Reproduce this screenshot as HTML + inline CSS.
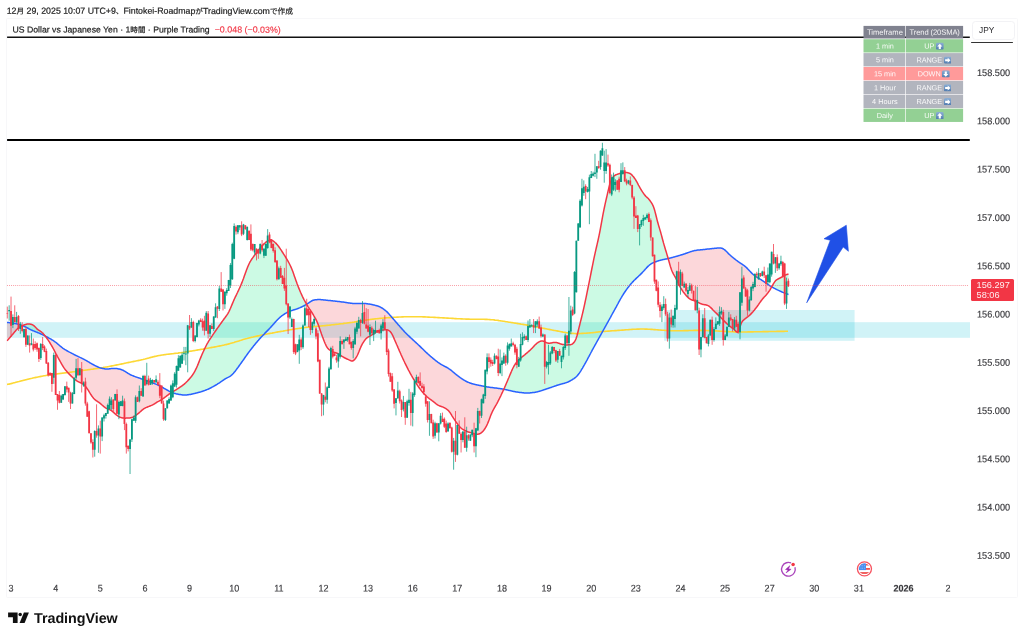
<!DOCTYPE html>
<html lang="ja"><head><meta charset="utf-8"><title>USDJPY</title>
<style>
html,body{margin:0;padding:0;background:#fff;}
body{width:1024px;height:639px;position:relative;overflow:hidden;font-family:"Liberation Sans","Noto Sans CJK JP",sans-serif;color:#2a2a2e;}
.abs{position:absolute;white-space:nowrap;line-height:1;}
#frame{position:absolute;left:6px;top:18px;width:1011.5px;height:580px;border:1px solid #f7f7f9;box-sizing:border-box;border-radius:1.5px;}
#hdr{left:0;top:0;transform:translate(6.65px,6.85px) rotate(0.04deg);font-size:8.8px;color:#222;-webkit-text-stroke:0.2px #222;}
#ttl{left:0;top:0;transform:translate(12.5px,25.55px) rotate(0.04deg);font-size:8.7px;color:#1e1e1e;-webkit-text-stroke:0.2px #1e1e1e;}
#ttl .chg{color:#f23645;margin-left:5px;font-size:8.9px;-webkit-text-stroke:0.15px #f23645;}
.cj{font-size:0.87em;}
.pl{left:977px;font-size:9.6px;color:#38383c;-webkit-text-stroke:0.15px #38383c;transform:scaleX(0.955) rotate(0.05deg);transform-origin:0 50%;}
.tl{font-size:9.6px;color:#38383c;-webkit-text-stroke:0.15px #38383c;transform:translate(-50%,0.6px) scaleX(0.94) rotate(0.05deg);top:583px;}
.tl.b{font-weight:bold;}
#cur{left:970.5px;top:279.3px;width:43.1px;height:21.8px;background:#f23645;border-radius:1.5px;color:rgba(255,255,255,0.92);font-size:9.2px;}
#cur div{position:absolute;left:6.1px;line-height:1;}
#jpy{left:972.3px;top:21.1px;width:43px;height:18.6px;border:1px solid #f2f2f5;border-radius:3.5px;box-sizing:border-box;font-size:8.3px;}
#jpy span{position:absolute;left:5.8px;top:3.9px;}
#jpyline{position:absolute;left:970.8px;top:41.8px;width:42.4px;height:1.5px;background:#333;border-radius:1px;}
#tbl{position:absolute;left:863.5px;top:0;width:99.6px;}
#tbl .row{position:absolute;left:0;width:99.6px;transform:translateY(0.3px) rotate(0.05deg);}
#tbl .row.h{font-size:7.6px;transform:translateY(0.45px) rotate(0.05deg);}
#tbl .row.h .c{font-size:7.6px;}
#tbl .row.h .c2{padding-right:0.6px;}
#tbl .c{position:absolute;top:0;height:100%;color:rgba(255,255,255,0.92);font-size:7.3px;box-sizing:border-box;text-align:center;white-space:nowrap;}
#tbl .c1{left:0;width:41.8px;}
#tbl .c2{left:42.25px;width:57.35px;letter-spacing:-0.1px;padding-right:2.0px;}
.up{background:#93d094;} .rg{background:#b2b5be;} .dn{background:#ff9a9a;} .hd{background:#80828f;}
.em{display:inline-block;width:7.6px;height:7.6px;vertical-align:-1.3px;margin-left:1.8px;}
#logo{left:34.0px;top:610.5px;transform:rotate(0.03deg);font-size:14.35px;font-weight:bold;color:#111;letter-spacing:-0.05px;}
</style></head><body>
<div id="frame"></div>
<div id="hdr" class="abs">12<span class="cj">月</span> 29, 2025 10:07 UTC+9<span class="cj">、</span>Fintokei-Roadmap<span class="cj">が</span>TradingView.com<span class="cj">で作成</span></div>
<div id="ttl" class="abs">US Dollar vs Japanese Yen · 1<span class="cj">時間</span> · Purple Trading<span class="chg">−0.048 (−0.03%)</span></div>
<svg class="abs" style="left:0;top:0" width="1024" height="639" viewBox="0 0 1024 639">

<rect x="7" y="322.2" width="963" height="15.6" fill="rgba(0,188,212,0.18)"/>
<rect x="664.2" y="310" width="190.4" height="30.8" fill="rgba(0,188,212,0.18)"/>
<path d="M22.5 325.6L23.0 325.4L23.5 325.2L24.0 325.0L24.5 324.8L25.0 324.7L25.5 324.5L26.0 324.4L26.5 324.2L27.0 324.1L27.5 324.1L28.0 324.0L28.5 324.0L29.0 324.0L29.5 324.1L30.0 324.1L30.5 324.2L31.0 324.3L31.5 324.5L32.0 324.6L32.5 324.8L33.0 325.1L33.5 325.4L34.0 325.8L34.5 326.2L35.0 326.7L35.5 327.2L36.0 327.8L36.5 328.3L37.0 328.9L37.5 329.3L38.0 329.7L38.5 330.0L39.0 330.3L39.5 330.6L40.0 330.9L40.5 331.3L41.0 331.6L41.5 332.0L42.0 332.5L42.5 332.9L43.0 333.4L43.5 334.0L44.0 334.5L44.5 335.2L45.0 335.8L45.5 336.4L45.5 336.2L45.0 335.9L44.5 335.7L44.0 335.4L43.5 335.2L43.0 334.9L42.5 334.7L42.0 334.4L41.5 334.2L41.0 334.0L40.5 333.7L40.0 333.5L39.5 333.3L39.0 333.1L38.5 332.9L38.0 332.7L37.5 332.5L37.0 332.3L36.5 332.1L36.0 331.9L35.5 331.7L35.0 331.5L34.5 331.3L34.0 331.1L33.5 330.9L33.0 330.7L32.5 330.5L32.0 330.3L31.5 330.1L31.0 329.8L30.5 329.6L30.0 329.3L29.5 329.1L29.0 328.8L28.5 328.5L28.0 328.3L27.5 328.0L27.0 327.7L26.5 327.5L26.0 327.2L25.5 326.9L25.0 326.7L24.5 326.5L24.0 326.2L23.5 326.0L23.0 325.8L22.5 325.6ZM172.0 392.2L172.5 391.9L173.0 391.5L173.5 391.3L174.0 391.0L174.5 390.7L175.0 390.4L175.5 390.1L176.0 389.8L176.5 389.5L177.0 389.1L177.5 388.8L178.0 388.5L178.5 388.2L179.0 387.8L179.5 387.5L180.0 387.2L180.5 386.8L181.0 386.5L181.5 386.2L182.0 385.8L182.5 385.5L183.0 385.1L183.5 384.7L184.0 384.3L184.5 383.9L185.0 383.4L185.5 383.0L186.0 382.5L186.5 382.0L187.0 381.5L187.5 381.0L188.0 380.4L188.5 379.9L189.0 379.4L189.5 378.8L190.0 378.2L190.5 377.6L191.0 377.0L191.5 376.4L192.0 375.7L192.5 375.0L193.0 374.2L193.5 373.5L194.0 372.7L194.5 371.8L195.0 370.9L195.5 369.9L196.0 368.9L196.5 367.9L197.0 366.7L197.5 365.6L198.0 364.4L198.5 363.1L199.0 361.9L199.5 360.6L200.0 359.3L200.5 358.1L201.0 356.9L201.5 355.7L202.0 354.5L202.5 353.4L203.0 352.3L203.5 351.2L204.0 350.1L204.5 349.0L205.0 348.0L205.5 347.0L206.0 346.0L206.5 345.0L207.0 344.0L207.5 343.1L208.0 342.3L208.5 341.4L209.0 340.6L209.5 339.8L210.0 339.0L210.5 338.3L211.0 337.6L211.5 336.8L212.0 336.1L212.5 335.3L213.0 334.6L213.5 333.9L214.0 333.1L214.5 332.4L215.0 331.7L215.5 331.0L216.0 330.2L216.5 329.5L217.0 328.8L217.5 328.1L218.0 327.4L218.5 326.7L219.0 326.0L219.5 325.3L220.0 324.6L220.5 323.9L221.0 323.2L221.5 322.5L222.0 321.8L222.5 321.1L223.0 320.4L223.5 319.7L224.0 319.0L224.5 318.3L225.0 317.7L225.5 317.0L226.0 316.3L226.5 315.6L227.0 314.9L227.5 314.1L228.0 313.3L228.5 312.4L229.0 311.5L229.5 310.4L230.0 309.3L230.5 308.2L231.0 307.0L231.5 305.8L232.0 304.6L232.5 303.4L233.0 302.2L233.5 301.0L234.0 299.9L234.5 298.8L235.0 297.7L235.5 296.7L236.0 295.6L236.5 294.6L237.0 293.5L237.5 292.5L238.0 291.4L238.5 290.4L239.0 289.3L239.5 288.2L240.0 287.1L240.5 286.0L241.0 284.8L241.5 283.6L242.0 282.4L242.5 281.1L243.0 279.7L243.5 278.4L244.0 277.0L244.5 275.6L245.0 274.2L245.5 272.8L246.0 271.4L246.5 270.0L247.0 268.7L247.5 267.4L248.0 266.2L248.5 265.1L249.0 264.0L249.5 263.0L250.0 262.0L250.5 261.2L251.0 260.3L251.5 259.5L252.0 258.8L252.5 258.1L253.0 257.4L253.5 256.7L254.0 256.0L254.5 255.3L255.0 254.7L255.5 254.0L256.0 253.3L256.5 252.6L257.0 252.0L257.5 251.3L258.0 250.7L258.5 250.0L259.0 249.4L259.5 248.8L260.0 248.2L260.5 247.6L261.0 247.1L261.5 246.5L262.0 246.0L262.5 245.5L263.0 244.9L263.5 244.4L264.0 243.9L264.5 243.4L265.0 243.0L265.5 242.5L266.0 242.1L266.5 241.7L267.0 241.4L267.5 241.1L268.0 240.8L268.5 240.6L269.0 240.4L269.5 240.2L270.0 240.1L270.5 240.1L271.0 240.1L271.5 240.2L272.0 240.3L272.5 240.6L273.0 240.9L273.5 241.2L274.0 241.6L274.5 242.0L275.0 242.5L275.5 242.9L276.0 243.4L276.5 243.9L277.0 244.5L277.5 245.1L278.0 245.7L278.5 246.3L279.0 247.0L279.5 247.7L280.0 248.4L280.5 249.2L281.0 249.9L281.5 250.7L282.0 251.5L282.5 252.3L283.0 253.0L283.5 253.8L284.0 254.6L284.5 255.4L285.0 256.2L285.5 257.0L286.0 257.8L286.5 258.6L287.0 259.4L287.5 260.3L288.0 261.2L288.5 262.1L289.0 263.0L289.5 264.0L290.0 265.0L290.5 266.0L291.0 267.1L291.5 268.3L292.0 269.5L292.5 270.8L293.0 272.1L293.5 273.5L294.0 274.9L294.5 276.4L295.0 277.8L295.5 279.3L296.0 280.7L296.5 282.1L297.0 283.5L297.5 284.8L298.0 286.1L298.5 287.4L299.0 288.6L299.5 289.8L300.0 291.0L300.5 292.2L301.0 293.3L301.5 294.4L302.0 295.5L302.5 296.6L303.0 297.6L303.5 298.6L304.0 299.6L304.5 300.5L305.0 301.4L305.5 302.3L306.0 303.2L306.5 304.1L307.0 304.9L307.0 304.0L306.5 304.3L306.0 304.6L305.5 304.9L305.0 305.2L304.5 305.4L304.0 305.7L303.5 306.0L303.0 306.2L302.5 306.5L302.0 306.7L301.5 307.0L301.0 307.2L300.5 307.4L300.0 307.7L299.5 307.9L299.0 308.1L298.5 308.3L298.0 308.5L297.5 308.7L297.0 308.9L296.5 309.1L296.0 309.2L295.5 309.4L295.0 309.5L294.5 309.7L294.0 309.8L293.5 310.0L293.0 310.1L292.5 310.3L292.0 310.4L291.5 310.6L291.0 310.8L290.5 310.9L290.0 311.1L289.5 311.3L289.0 311.5L288.5 311.8L288.0 312.0L287.5 312.3L287.0 312.5L286.5 312.8L286.0 313.1L285.5 313.4L285.0 313.7L284.5 314.0L284.0 314.3L283.5 314.7L283.0 315.0L282.5 315.4L282.0 315.7L281.5 316.1L281.0 316.5L280.5 316.9L280.0 317.3L279.5 317.8L279.0 318.2L278.5 318.7L278.0 319.2L277.5 319.7L277.0 320.2L276.5 320.8L276.0 321.3L275.5 321.9L275.0 322.4L274.5 323.0L274.0 323.6L273.5 324.1L273.0 324.7L272.5 325.3L272.0 325.8L271.5 326.4L271.0 326.9L270.5 327.5L270.0 328.0L269.5 328.5L269.0 329.1L268.5 329.6L268.0 330.1L267.5 330.6L267.0 331.1L266.5 331.6L266.0 332.1L265.5 332.6L265.0 333.1L264.5 333.7L264.0 334.2L263.5 334.7L263.0 335.2L262.5 335.7L262.0 336.3L261.5 336.8L261.0 337.3L260.5 337.9L260.0 338.4L259.5 339.0L259.0 339.6L258.5 340.2L258.0 340.7L257.5 341.3L257.0 341.9L256.5 342.5L256.0 343.1L255.5 343.7L255.0 344.3L254.5 344.9L254.0 345.5L253.5 346.1L253.0 346.8L252.5 347.4L252.0 348.0L251.5 348.7L251.0 349.3L250.5 349.9L250.0 350.6L249.5 351.3L249.0 351.9L248.5 352.6L248.0 353.3L247.5 354.0L247.0 354.7L246.5 355.4L246.0 356.1L245.5 356.8L245.0 357.5L244.5 358.2L244.0 359.0L243.5 359.7L243.0 360.4L242.5 361.1L242.0 361.8L241.5 362.5L241.0 363.2L240.5 363.9L240.0 364.6L239.5 365.3L239.0 366.0L238.5 366.7L238.0 367.4L237.5 368.0L237.0 368.7L236.5 369.4L236.0 370.1L235.5 370.8L235.0 371.4L234.5 372.0L234.0 372.6L233.5 373.2L233.0 373.7L232.5 374.2L232.0 374.7L231.5 375.2L231.0 375.6L230.5 375.9L230.0 376.3L229.5 376.6L229.0 376.9L228.5 377.1L228.0 377.4L227.5 377.6L227.0 377.9L226.5 378.2L226.0 378.4L225.5 378.7L225.0 379.0L224.5 379.3L224.0 379.7L223.5 380.0L223.0 380.3L222.5 380.7L222.0 381.0L221.5 381.4L221.0 381.7L220.5 382.1L220.0 382.4L219.5 382.8L219.0 383.1L218.5 383.4L218.0 383.7L217.5 384.0L217.0 384.4L216.5 384.7L216.0 385.0L215.5 385.3L215.0 385.5L214.5 385.8L214.0 386.1L213.5 386.4L213.0 386.7L212.5 386.9L212.0 387.2L211.5 387.5L211.0 387.7L210.5 388.0L210.0 388.2L209.5 388.5L209.0 388.7L208.5 389.0L208.0 389.2L207.5 389.4L207.0 389.6L206.5 389.8L206.0 390.0L205.5 390.2L205.0 390.4L204.5 390.6L204.0 390.8L203.5 391.0L203.0 391.1L202.5 391.3L202.0 391.5L201.5 391.6L201.0 391.8L200.5 391.9L200.0 392.1L199.5 392.2L199.0 392.3L198.5 392.5L198.0 392.6L197.5 392.7L197.0 392.9L196.5 393.0L196.0 393.1L195.5 393.2L195.0 393.4L194.5 393.5L194.0 393.6L193.5 393.7L193.0 393.8L192.5 393.9L192.0 394.0L191.5 394.2L191.0 394.3L190.5 394.4L190.0 394.5L189.5 394.6L189.0 394.6L188.5 394.7L188.0 394.8L187.5 394.8L187.0 394.9L186.5 394.9L186.0 395.0L185.5 395.0L185.0 395.0L184.5 395.0L184.0 395.0L183.5 394.9L183.0 394.9L182.5 394.9L182.0 394.8L181.5 394.8L181.0 394.7L180.5 394.6L180.0 394.6L179.5 394.5L179.0 394.4L178.5 394.3L178.0 394.2L177.5 394.1L177.0 394.0L176.5 393.9L176.0 393.8L175.5 393.6L175.0 393.5L174.5 393.4L174.0 393.2L173.5 393.1L173.0 392.9L172.5 392.7L172.0 392.6ZM504.0 388.8L504.5 387.7L505.0 386.5L505.5 385.4L506.0 384.2L506.5 383.0L507.0 381.9L507.5 380.7L508.0 379.5L508.5 378.3L509.0 377.2L509.5 376.0L510.0 374.8L510.5 373.6L511.0 372.4L511.5 371.3L512.0 370.1L512.5 369.0L513.0 368.0L513.5 367.0L514.0 366.1L514.5 365.2L515.0 364.5L515.5 363.7L516.0 363.1L516.5 362.4L517.0 361.8L517.5 361.2L518.0 360.6L518.5 360.1L519.0 359.6L519.5 359.1L520.0 358.6L520.5 358.2L521.0 357.8L521.5 357.4L522.0 357.0L522.5 356.6L523.0 356.2L523.5 355.8L524.0 355.4L524.5 355.0L525.0 354.6L525.5 354.1L526.0 353.7L526.5 353.3L527.0 352.9L527.5 352.4L528.0 352.0L528.5 351.6L529.0 351.1L529.5 350.7L530.0 350.2L530.5 349.8L531.0 349.3L531.5 348.8L532.0 348.3L532.5 347.7L533.0 347.2L533.5 346.6L534.0 346.1L534.5 345.5L535.0 345.0L535.5 344.5L536.0 344.1L536.5 343.6L537.0 343.2L537.5 342.9L538.0 342.5L538.5 342.2L539.0 341.9L539.5 341.7L540.0 341.4L540.5 341.2L541.0 341.1L541.5 341.0L542.0 341.0L542.5 341.0L543.0 341.1L543.5 341.2L544.0 341.4L544.5 341.7L545.0 341.9L545.5 342.2L546.0 342.4L546.5 342.7L547.0 342.9L547.5 343.0L548.0 343.1L548.5 343.2L549.0 343.2L549.5 343.2L550.0 343.2L550.5 343.1L551.0 343.0L551.5 342.9L552.0 342.8L552.5 342.7L553.0 342.6L553.5 342.5L554.0 342.4L554.5 342.4L555.0 342.4L555.5 342.4L556.0 342.5L556.5 342.6L557.0 342.7L557.5 342.8L558.0 343.0L558.5 343.2L559.0 343.3L559.5 343.5L560.0 343.7L560.5 343.9L561.0 344.0L561.5 344.2L562.0 344.3L562.5 344.4L563.0 344.5L563.5 344.6L564.0 344.6L564.5 344.7L565.0 344.8L565.5 344.8L566.0 344.9L566.5 344.9L567.0 344.9L567.5 344.9L568.0 344.8L568.5 344.8L569.0 344.8L569.5 344.7L570.0 344.7L570.5 344.7L571.0 344.6L571.5 344.4L572.0 344.2L572.5 343.8L573.0 343.4L573.5 342.9L574.0 342.4L574.5 341.7L575.0 340.9L575.5 339.9L576.0 338.8L576.5 337.3L577.0 335.7L577.5 333.8L578.0 331.8L578.5 329.8L579.0 327.7L579.5 325.7L580.0 323.6L580.5 321.6L581.0 319.7L581.5 317.7L582.0 315.6L582.5 313.6L583.0 311.5L583.5 309.3L584.0 307.1L584.5 304.9L585.0 302.5L585.5 300.2L586.0 297.8L586.5 295.3L587.0 292.9L587.5 290.4L588.0 288.0L588.5 285.5L589.0 283.1L589.5 280.6L590.0 278.1L590.5 275.6L591.0 273.0L591.5 270.5L592.0 268.0L592.5 265.6L593.0 263.1L593.5 260.6L594.0 258.2L594.5 255.9L595.0 253.6L595.5 251.4L596.0 249.2L596.5 247.0L597.0 244.9L597.5 242.7L598.0 240.5L598.5 238.2L599.0 235.9L599.5 233.4L600.0 230.9L600.5 228.2L601.0 225.4L601.5 222.6L602.0 219.8L602.5 217.1L603.0 214.4L603.5 211.9L604.0 209.4L604.5 207.0L605.0 204.7L605.5 202.4L606.0 200.2L606.5 198.0L607.0 195.8L607.5 193.6L608.0 191.4L608.5 189.3L609.0 187.2L609.5 185.3L610.0 183.5L610.5 182.0L611.0 180.7L611.5 179.6L612.0 178.7L612.5 177.9L613.0 177.3L613.5 176.7L614.0 176.1L614.5 175.7L615.0 175.3L615.5 175.0L616.0 174.8L616.5 174.6L617.0 174.4L617.5 174.2L618.0 174.1L618.5 173.9L619.0 173.7L619.5 173.5L620.0 173.4L620.5 173.2L621.0 173.1L621.5 173.0L622.0 172.9L622.5 172.8L623.0 172.7L623.5 172.7L624.0 172.6L624.5 172.6L625.0 172.6L625.5 172.6L626.0 172.6L626.5 172.6L627.0 172.6L627.5 172.7L628.0 172.8L628.5 172.9L629.0 173.1L629.5 173.3L630.0 173.5L630.5 173.8L631.0 174.2L631.5 174.6L632.0 175.1L632.5 175.7L633.0 176.2L633.5 176.8L634.0 177.5L634.5 178.2L635.0 178.9L635.5 179.7L636.0 180.5L636.5 181.3L637.0 182.2L637.5 183.1L638.0 184.1L638.5 185.1L639.0 186.0L639.5 186.9L640.0 187.8L640.5 188.7L641.0 189.5L641.5 190.3L642.0 191.1L642.5 191.9L643.0 192.6L643.5 193.4L644.0 194.1L644.5 194.7L645.0 195.4L645.5 195.9L646.0 196.5L646.5 196.9L647.0 197.4L647.5 197.8L648.0 198.3L648.5 198.8L649.0 199.4L649.5 200.0L650.0 200.7L650.5 201.4L651.0 202.1L651.5 202.9L652.0 203.7L652.5 204.6L653.0 205.6L653.5 206.8L654.0 208.2L654.5 209.8L655.0 211.6L655.5 213.5L656.0 215.5L656.5 217.5L657.0 219.6L657.5 221.5L658.0 223.3L658.5 225.1L659.0 226.8L659.5 228.4L660.0 230.1L660.5 231.8L661.0 233.6L661.5 235.4L662.0 237.3L662.5 239.2L663.0 241.0L663.5 242.9L664.0 244.6L664.5 246.3L665.0 248.0L665.5 249.7L666.0 251.3L666.5 252.9L667.0 254.6L667.5 256.2L668.0 258.0L668.5 259.7L668.5 258.4L668.0 258.6L667.5 258.7L667.0 258.8L666.5 258.9L666.0 259.0L665.5 259.1L665.0 259.2L664.5 259.3L664.0 259.4L663.5 259.5L663.0 259.6L662.5 259.7L662.0 259.9L661.5 260.0L661.0 260.1L660.5 260.2L660.0 260.4L659.5 260.5L659.0 260.6L658.5 260.8L658.0 261.0L657.5 261.1L657.0 261.3L656.5 261.5L656.0 261.7L655.5 261.8L655.0 262.0L654.5 262.2L654.0 262.4L653.5 262.6L653.0 262.8L652.5 263.1L652.0 263.3L651.5 263.6L651.0 263.9L650.5 264.3L650.0 264.6L649.5 265.0L649.0 265.5L648.5 265.9L648.0 266.4L647.5 266.9L647.0 267.4L646.5 267.9L646.0 268.5L645.5 269.0L645.0 269.6L644.5 270.1L644.0 270.7L643.5 271.2L643.0 271.8L642.5 272.3L642.0 272.9L641.5 273.4L641.0 273.9L640.5 274.4L640.0 274.9L639.5 275.3L639.0 275.8L638.5 276.3L638.0 276.7L637.5 277.2L637.0 277.7L636.5 278.1L636.0 278.6L635.5 279.1L635.0 279.6L634.5 280.0L634.0 280.5L633.5 281.1L633.0 281.6L632.5 282.1L632.0 282.7L631.5 283.2L631.0 283.8L630.5 284.4L630.0 285.0L629.5 285.6L629.0 286.3L628.5 286.9L628.0 287.6L627.5 288.2L627.0 288.9L626.5 289.6L626.0 290.3L625.5 291.0L625.0 291.8L624.5 292.5L624.0 293.2L623.5 294.0L623.0 294.8L622.5 295.6L622.0 296.4L621.5 297.3L621.0 298.1L620.5 299.0L620.0 299.9L619.5 300.8L619.0 301.7L618.5 302.6L618.0 303.6L617.5 304.5L617.0 305.4L616.5 306.4L616.0 307.3L615.5 308.2L615.0 309.1L614.5 310.0L614.0 310.9L613.5 311.8L613.0 312.7L612.5 313.6L612.0 314.5L611.5 315.4L611.0 316.3L610.5 317.3L610.0 318.2L609.5 319.1L609.0 320.0L608.5 320.9L608.0 321.8L607.5 322.7L607.0 323.6L606.5 324.5L606.0 325.4L605.5 326.3L605.0 327.2L604.5 328.1L604.0 329.0L603.5 329.9L603.0 330.8L602.5 331.7L602.0 332.6L601.5 333.5L601.0 334.4L600.5 335.3L600.0 336.2L599.5 337.1L599.0 338.0L598.5 338.9L598.0 339.8L597.5 340.7L597.0 341.6L596.5 342.5L596.0 343.4L595.5 344.3L595.0 345.2L594.5 346.1L594.0 347.0L593.5 347.9L593.0 348.8L592.5 349.7L592.0 350.6L591.5 351.6L591.0 352.5L590.5 353.5L590.0 354.4L589.5 355.3L589.0 356.3L588.5 357.2L588.0 358.2L587.5 359.1L587.0 360.1L586.5 361.0L586.0 361.9L585.5 362.8L585.0 363.7L584.5 364.6L584.0 365.4L583.5 366.3L583.0 367.2L582.5 368.1L582.0 368.9L581.5 369.7L581.0 370.6L580.5 371.4L580.0 372.1L579.5 372.9L579.0 373.6L578.5 374.2L578.0 374.9L577.5 375.4L577.0 376.0L576.5 376.5L576.0 377.0L575.5 377.4L575.0 377.8L574.5 378.2L574.0 378.6L573.5 378.9L573.0 379.2L572.5 379.5L572.0 379.8L571.5 380.1L571.0 380.4L570.5 380.7L570.0 381.0L569.5 381.3L569.0 381.5L568.5 381.7L568.0 382.0L567.5 382.2L567.0 382.4L566.5 382.6L566.0 382.7L565.5 382.9L565.0 383.1L564.5 383.2L564.0 383.4L563.5 383.5L563.0 383.6L562.5 383.7L562.0 383.9L561.5 384.0L561.0 384.1L560.5 384.3L560.0 384.4L559.5 384.5L559.0 384.7L558.5 384.9L558.0 385.0L557.5 385.2L557.0 385.3L556.5 385.5L556.0 385.7L555.5 385.9L555.0 386.0L554.5 386.2L554.0 386.4L553.5 386.6L553.0 386.7L552.5 386.9L552.0 387.1L551.5 387.3L551.0 387.5L550.5 387.6L550.0 387.8L549.5 388.0L549.0 388.1L548.5 388.3L548.0 388.5L547.5 388.6L547.0 388.8L546.5 389.0L546.0 389.1L545.5 389.3L545.0 389.5L544.5 389.6L544.0 389.8L543.5 390.0L543.0 390.1L542.5 390.3L542.0 390.4L541.5 390.6L541.0 390.8L540.5 390.9L540.0 391.1L539.5 391.2L539.0 391.4L538.5 391.5L538.0 391.6L537.5 391.8L537.0 391.9L536.5 392.0L536.0 392.1L535.5 392.2L535.0 392.3L534.5 392.4L534.0 392.4L533.5 392.5L533.0 392.6L532.5 392.6L532.0 392.7L531.5 392.8L531.0 392.8L530.5 392.8L530.0 392.9L529.5 392.9L529.0 392.9L528.5 393.0L528.0 393.0L527.5 393.0L527.0 393.0L526.5 393.0L526.0 393.0L525.5 393.0L525.0 392.9L524.5 392.9L524.0 392.9L523.5 392.8L523.0 392.8L522.5 392.7L522.0 392.7L521.5 392.6L521.0 392.6L520.5 392.5L520.0 392.4L519.5 392.4L519.0 392.3L518.5 392.2L518.0 392.2L517.5 392.1L517.0 392.0L516.5 391.9L516.0 391.9L515.5 391.8L515.0 391.7L514.5 391.6L514.0 391.5L513.5 391.4L513.0 391.3L512.5 391.2L512.0 391.1L511.5 390.9L511.0 390.8L510.5 390.7L510.0 390.6L509.5 390.5L509.0 390.4L508.5 390.3L508.0 390.1L507.5 390.0L507.0 389.9L506.5 389.8L506.0 389.7L505.5 389.6L505.0 389.5L504.5 389.4L504.0 389.3ZM772.0 286.3L772.5 285.4L773.0 284.5L773.5 283.7L774.0 282.9L774.5 282.1L775.0 281.4L775.5 280.8L776.0 280.3L776.5 279.9L777.0 279.6L777.5 279.3L778.0 279.0L778.5 278.7L779.0 278.5L779.5 278.3L780.0 278.0L780.5 277.8L781.0 277.5L781.5 277.2L782.0 276.9L782.5 276.6L783.0 276.3L783.5 276.0L784.0 275.7L784.5 275.4L785.0 275.1L785.5 274.9L786.0 274.8L786.5 274.6L787.0 274.5L787.5 274.3L788.0 274.2L788.5 274.1L788.5 294.4L788.0 294.3L787.5 294.1L787.0 294.0L786.5 293.8L786.0 293.6L785.5 293.4L785.0 293.2L784.5 293.0L784.0 292.8L783.5 292.6L783.0 292.4L782.5 292.2L782.0 292.0L781.5 291.7L781.0 291.5L780.5 291.3L780.0 291.1L779.5 290.8L779.0 290.6L778.5 290.4L778.0 290.1L777.5 289.9L777.0 289.7L776.5 289.4L776.0 289.2L775.5 288.9L775.0 288.6L774.5 288.4L774.0 288.1L773.5 287.8L773.0 287.6L772.5 287.3L772.0 287.0Z" fill="rgba(0,230,118,0.2)"/>
<path d="M7.0 340.6L7.5 340.3L8.0 339.8L8.5 339.2L9.0 338.6L9.5 338.0L10.0 337.4L10.5 336.8L11.0 336.3L11.5 335.7L12.0 335.1L12.5 334.5L13.0 333.9L13.5 333.3L14.0 332.7L14.5 332.1L15.0 331.5L15.5 330.9L16.0 330.3L16.5 329.8L17.0 329.3L17.5 328.8L18.0 328.3L18.5 327.9L19.0 327.6L19.5 327.2L20.0 326.9L20.5 326.6L21.0 326.3L21.5 326.1L22.0 325.8L22.5 325.6L22.5 325.6L22.0 325.4L21.5 325.3L21.0 325.1L20.5 324.9L20.0 324.8L19.5 324.6L19.0 324.5L18.5 324.3L18.0 324.2L17.5 324.1L17.0 323.9L16.5 323.8L16.0 323.7L15.5 323.6L15.0 323.5L14.5 323.4L14.0 323.3L13.5 323.2L13.0 323.1L12.5 323.1L12.0 323.0L11.5 322.9L11.0 322.9L10.5 322.8L10.0 322.8L9.5 322.7L9.0 322.6L8.5 322.6L8.0 322.5L7.5 322.5L7.0 322.5ZM45.5 336.4L46.0 337.1L46.5 337.8L47.0 338.5L47.5 339.2L48.0 339.9L48.5 340.7L49.0 341.4L49.5 342.2L50.0 343.0L50.5 343.8L51.0 344.6L51.5 345.5L52.0 346.3L52.5 347.2L53.0 348.1L53.5 349.0L54.0 349.9L54.5 350.9L55.0 351.8L55.5 352.8L56.0 353.8L56.5 354.7L57.0 355.6L57.5 356.6L58.0 357.5L58.5 358.4L59.0 359.3L59.5 360.2L60.0 361.1L60.5 362.0L61.0 362.9L61.5 363.8L62.0 364.7L62.5 365.5L63.0 366.3L63.5 367.1L64.0 367.9L64.5 368.6L65.0 369.3L65.5 369.9L66.0 370.5L66.5 371.1L67.0 371.7L67.5 372.3L68.0 372.8L68.5 373.4L69.0 373.9L69.5 374.4L70.0 374.9L70.5 375.4L71.0 375.9L71.5 376.4L72.0 376.8L72.5 377.3L73.0 377.8L73.5 378.2L74.0 378.6L74.5 379.1L75.0 379.5L75.5 379.9L76.0 380.3L76.5 380.6L77.0 381.0L77.5 381.3L78.0 381.6L78.5 381.8L79.0 382.1L79.5 382.3L80.0 382.5L80.5 382.7L81.0 382.9L81.5 383.1L82.0 383.4L82.5 383.7L83.0 384.0L83.5 384.4L84.0 384.9L84.5 385.4L85.0 385.9L85.5 386.5L86.0 387.1L86.5 387.8L87.0 388.5L87.5 389.2L88.0 389.9L88.5 390.7L89.0 391.5L89.5 392.4L90.0 393.2L90.5 394.0L91.0 394.7L91.5 395.5L92.0 396.2L92.5 396.9L93.0 397.6L93.5 398.2L94.0 398.7L94.5 399.2L95.0 399.7L95.5 400.1L96.0 400.5L96.5 400.8L97.0 401.1L97.5 401.5L98.0 401.8L98.5 402.1L99.0 402.5L99.5 402.8L100.0 403.2L100.5 403.7L101.0 404.1L101.5 404.5L102.0 405.0L102.5 405.4L103.0 405.8L103.5 406.3L104.0 406.7L104.5 407.1L105.0 407.4L105.5 407.8L106.0 408.1L106.5 408.4L107.0 408.6L107.5 408.8L108.0 409.0L108.5 409.2L109.0 409.4L109.5 409.6L110.0 409.8L110.5 410.1L111.0 410.4L111.5 410.7L112.0 411.1L112.5 411.5L113.0 411.9L113.5 412.4L114.0 412.8L114.5 413.3L115.0 413.7L115.5 414.2L116.0 414.6L116.5 415.0L117.0 415.4L117.5 415.7L118.0 416.1L118.5 416.4L119.0 416.7L119.5 417.0L120.0 417.2L120.5 417.4L121.0 417.6L121.5 417.7L122.0 417.8L122.5 417.9L123.0 418.0L123.5 418.1L124.0 418.1L124.5 418.1L125.0 418.2L125.5 418.2L126.0 418.1L126.5 418.1L127.0 418.1L127.5 418.1L128.0 418.0L128.5 418.0L129.0 418.0L129.5 417.9L130.0 417.9L130.5 417.8L131.0 417.7L131.5 417.6L132.0 417.4L132.5 417.3L133.0 417.1L133.5 416.8L134.0 416.6L134.5 416.3L135.0 415.9L135.5 415.6L136.0 415.2L136.5 414.9L137.0 414.5L137.5 414.1L138.0 413.7L138.5 413.3L139.0 412.9L139.5 412.4L140.0 412.0L140.5 411.5L141.0 411.1L141.5 410.6L142.0 410.2L142.5 409.8L143.0 409.4L143.5 409.0L144.0 408.7L144.5 408.4L145.0 408.1L145.5 407.8L146.0 407.6L146.5 407.4L147.0 407.2L147.5 407.0L148.0 406.8L148.5 406.6L149.0 406.4L149.5 406.2L150.0 406.0L150.5 405.8L151.0 405.6L151.5 405.4L152.0 405.2L152.5 404.9L153.0 404.7L153.5 404.4L154.0 404.1L154.5 403.8L155.0 403.5L155.5 403.1L156.0 402.8L156.5 402.5L157.0 402.2L157.5 401.9L158.0 401.6L158.5 401.4L159.0 401.1L159.5 400.8L160.0 400.6L160.5 400.3L161.0 400.0L161.5 399.7L162.0 399.4L162.5 399.0L163.0 398.7L163.5 398.3L164.0 398.0L164.5 397.6L165.0 397.2L165.5 396.9L166.0 396.5L166.5 396.1L167.0 395.7L167.5 395.3L168.0 395.0L168.5 394.6L169.0 394.2L169.5 393.8L170.0 393.5L170.5 393.1L171.0 392.8L171.5 392.5L172.0 392.2L172.0 392.6L171.5 392.4L171.0 392.1L170.5 391.9L170.0 391.6L169.5 391.4L169.0 391.1L168.5 390.8L168.0 390.5L167.5 390.3L167.0 390.0L166.5 389.7L166.0 389.4L165.5 389.1L165.0 388.8L164.5 388.6L164.0 388.3L163.5 388.0L163.0 387.7L162.5 387.4L162.0 387.1L161.5 386.8L161.0 386.6L160.5 386.3L160.0 386.0L159.5 385.8L159.0 385.5L158.5 385.3L158.0 385.0L157.5 384.8L157.0 384.6L156.5 384.4L156.0 384.1L155.5 383.9L155.0 383.8L154.5 383.6L154.0 383.4L153.5 383.2L153.0 383.0L152.5 382.8L152.0 382.7L151.5 382.5L151.0 382.3L150.5 382.1L150.0 381.9L149.5 381.7L149.0 381.6L148.5 381.4L148.0 381.2L147.5 381.0L147.0 380.8L146.5 380.7L146.0 380.5L145.5 380.3L145.0 380.1L144.5 379.9L144.0 379.8L143.5 379.6L143.0 379.4L142.5 379.2L142.0 379.0L141.5 378.9L141.0 378.7L140.5 378.5L140.0 378.3L139.5 378.1L139.0 378.0L138.5 377.8L138.0 377.6L137.5 377.4L137.0 377.3L136.5 377.1L136.0 376.9L135.5 376.8L135.0 376.6L134.5 376.4L134.0 376.2L133.5 376.0L133.0 375.8L132.5 375.6L132.0 375.4L131.5 375.2L131.0 375.0L130.5 374.7L130.0 374.5L129.5 374.2L129.0 373.9L128.5 373.6L128.0 373.3L127.5 373.0L127.0 372.7L126.5 372.4L126.0 372.0L125.5 371.7L125.0 371.4L124.5 371.1L124.0 370.8L123.5 370.5L123.0 370.3L122.5 370.1L122.0 369.8L121.5 369.7L121.0 369.5L120.5 369.3L120.0 369.2L119.5 369.1L119.0 369.0L118.5 368.9L118.0 368.8L117.5 368.7L117.0 368.6L116.5 368.6L116.0 368.5L115.5 368.5L115.0 368.5L114.5 368.4L114.0 368.4L113.5 368.4L113.0 368.4L112.5 368.5L112.0 368.5L111.5 368.6L111.0 368.6L110.5 368.7L110.0 368.8L109.5 368.8L109.0 368.9L108.5 368.9L108.0 369.0L107.5 369.0L107.0 369.0L106.5 369.0L106.0 368.9L105.5 368.9L105.0 368.9L104.5 368.8L104.0 368.7L103.5 368.6L103.0 368.5L102.5 368.4L102.0 368.3L101.5 368.2L101.0 368.1L100.5 367.9L100.0 367.8L99.5 367.6L99.0 367.4L98.5 367.2L98.0 367.0L97.5 366.8L97.0 366.5L96.5 366.3L96.0 366.1L95.5 365.8L95.0 365.6L94.5 365.3L94.0 365.0L93.5 364.8L93.0 364.5L92.5 364.2L92.0 364.0L91.5 363.7L91.0 363.4L90.5 363.1L90.0 362.8L89.5 362.5L89.0 362.2L88.5 361.9L88.0 361.6L87.5 361.3L87.0 361.0L86.5 360.7L86.0 360.4L85.5 360.2L85.0 359.9L84.5 359.6L84.0 359.3L83.5 359.1L83.0 358.8L82.5 358.6L82.0 358.3L81.5 358.1L81.0 357.8L80.5 357.6L80.0 357.4L79.5 357.1L79.0 356.9L78.5 356.7L78.0 356.4L77.5 356.2L77.0 355.9L76.5 355.7L76.0 355.5L75.5 355.2L75.0 355.0L74.5 354.7L74.0 354.5L73.5 354.2L73.0 353.9L72.5 353.7L72.0 353.4L71.5 353.2L71.0 352.9L70.5 352.6L70.0 352.4L69.5 352.1L69.0 351.9L68.5 351.6L68.0 351.3L67.5 351.0L67.0 350.8L66.5 350.5L66.0 350.2L65.5 349.9L65.0 349.6L64.5 349.3L64.0 348.9L63.5 348.6L63.0 348.3L62.5 347.9L62.0 347.5L61.5 347.1L61.0 346.7L60.5 346.3L60.0 345.9L59.5 345.5L59.0 345.0L58.5 344.6L58.0 344.2L57.5 343.8L57.0 343.3L56.5 342.9L56.0 342.5L55.5 342.1L55.0 341.8L54.5 341.4L54.0 341.1L53.5 340.7L53.0 340.4L52.5 340.1L52.0 339.8L51.5 339.5L51.0 339.2L50.5 338.9L50.0 338.6L49.5 338.4L49.0 338.1L48.5 337.8L48.0 337.5L47.5 337.3L47.0 337.0L46.5 336.7L46.0 336.5L45.5 336.2ZM307.0 304.9L307.5 305.7L308.0 306.6L308.5 307.3L309.0 308.1L309.5 308.9L310.0 309.6L310.5 310.3L311.0 311.1L311.5 311.9L312.0 312.7L312.5 313.5L313.0 314.3L313.5 315.2L314.0 316.1L314.5 316.9L315.0 317.8L315.5 318.7L316.0 319.7L316.5 320.7L317.0 321.7L317.5 322.9L318.0 324.1L318.5 325.4L319.0 326.8L319.5 328.2L320.0 329.7L320.5 331.2L321.0 332.6L321.5 334.1L322.0 335.4L322.5 336.8L323.0 338.1L323.5 339.4L324.0 340.7L324.5 342.0L325.0 343.2L325.5 344.3L326.0 345.4L326.5 346.3L327.0 347.2L327.5 347.9L328.0 348.5L328.5 349.1L329.0 349.5L329.5 349.9L330.0 350.2L330.5 350.5L331.0 350.8L331.5 351.1L332.0 351.4L332.5 351.7L333.0 351.9L333.5 352.1L334.0 352.3L334.5 352.4L335.0 352.6L335.5 352.7L336.0 352.9L336.5 353.0L337.0 353.2L337.5 353.4L338.0 353.7L338.5 354.0L339.0 354.3L339.5 354.6L340.0 355.0L340.5 355.3L341.0 355.6L341.5 356.0L342.0 356.3L342.5 356.6L343.0 356.9L343.5 357.2L344.0 357.5L344.5 357.8L345.0 358.0L345.5 358.3L346.0 358.5L346.5 358.8L347.0 359.0L347.5 359.2L348.0 359.4L348.5 359.6L349.0 359.9L349.5 360.1L350.0 360.3L350.5 360.6L351.0 360.8L351.5 360.9L352.0 361.0L352.5 361.0L353.0 360.8L353.5 360.5L354.0 360.1L354.5 359.7L355.0 359.1L355.5 358.5L356.0 357.7L356.5 356.9L357.0 356.0L357.5 355.0L358.0 353.9L358.5 352.7L359.0 351.5L359.5 350.2L360.0 348.9L360.5 347.8L361.0 346.6L361.5 345.6L362.0 344.6L362.5 343.7L363.0 342.9L363.5 342.1L364.0 341.3L364.5 340.6L365.0 339.9L365.5 339.3L366.0 338.8L366.5 338.3L367.0 337.8L367.5 337.5L368.0 337.1L368.5 336.8L369.0 336.6L369.5 336.3L370.0 336.0L370.5 335.8L371.0 335.4L371.5 335.1L372.0 334.8L372.5 334.4L373.0 334.1L373.5 333.7L374.0 333.4L374.5 333.1L375.0 332.7L375.5 332.4L376.0 332.1L376.5 331.9L377.0 331.6L377.5 331.4L378.0 331.2L378.5 331.0L379.0 330.9L379.5 330.7L380.0 330.6L380.5 330.5L381.0 330.4L381.5 330.3L382.0 330.2L382.5 330.1L383.0 330.0L383.5 330.0L384.0 329.9L384.5 329.8L385.0 329.7L385.5 329.7L386.0 329.7L386.5 329.7L387.0 329.7L387.5 329.9L388.0 330.1L388.5 330.3L389.0 330.6L389.5 331.0L390.0 331.4L390.5 331.9L391.0 332.5L391.5 333.3L392.0 334.1L392.5 335.1L393.0 336.1L393.5 337.2L394.0 338.4L394.5 339.6L395.0 340.7L395.5 341.9L396.0 343.0L396.5 344.2L397.0 345.3L397.5 346.4L398.0 347.6L398.5 348.7L399.0 349.9L399.5 351.1L400.0 352.2L400.5 353.3L401.0 354.5L401.5 355.6L402.0 356.7L402.5 357.8L403.0 358.9L403.5 359.9L404.0 361.0L404.5 362.0L405.0 363.1L405.5 364.1L406.0 365.1L406.5 366.1L407.0 367.1L407.5 368.1L408.0 369.1L408.5 370.1L409.0 371.0L409.5 371.9L410.0 372.9L410.5 373.8L411.0 374.7L411.5 375.6L412.0 376.4L412.5 377.3L413.0 378.2L413.5 379.0L414.0 379.8L414.5 380.7L415.0 381.5L415.5 382.3L416.0 383.1L416.5 383.8L417.0 384.6L417.5 385.4L418.0 386.1L418.5 386.8L419.0 387.5L419.5 388.2L420.0 388.9L420.5 389.6L421.0 390.2L421.5 390.9L422.0 391.5L422.5 392.1L423.0 392.6L423.5 393.2L424.0 393.8L424.5 394.3L425.0 394.8L425.5 395.3L426.0 395.8L426.5 396.3L427.0 396.8L427.5 397.2L428.0 397.6L428.5 398.0L429.0 398.4L429.5 398.8L430.0 399.1L430.5 399.5L431.0 399.8L431.5 400.2L432.0 400.6L432.5 400.9L433.0 401.3L433.5 401.7L434.0 402.1L434.5 402.5L435.0 402.9L435.5 403.3L436.0 403.8L436.5 404.1L437.0 404.5L437.5 404.8L438.0 405.1L438.5 405.4L439.0 405.6L439.5 405.9L440.0 406.0L440.5 406.2L441.0 406.4L441.5 406.5L442.0 406.7L442.5 406.9L443.0 407.1L443.5 407.3L444.0 407.6L444.5 407.8L445.0 408.1L445.5 408.4L446.0 408.7L446.5 409.1L447.0 409.4L447.5 409.8L448.0 410.2L448.5 410.7L449.0 411.3L449.5 411.9L450.0 412.6L450.5 413.3L451.0 414.1L451.5 414.9L452.0 415.8L452.5 416.6L453.0 417.4L453.5 418.2L454.0 418.9L454.5 419.7L455.0 420.4L455.5 421.2L456.0 421.9L456.5 422.6L457.0 423.3L457.5 424.0L458.0 424.7L458.5 425.3L459.0 425.9L459.5 426.5L460.0 427.1L460.5 427.5L461.0 428.0L461.5 428.4L462.0 428.8L462.5 429.1L463.0 429.5L463.5 429.8L464.0 430.0L464.5 430.3L465.0 430.6L465.5 430.8L466.0 431.0L466.5 431.2L467.0 431.5L467.5 431.7L468.0 431.9L468.5 432.0L469.0 432.2L469.5 432.3L470.0 432.5L470.5 432.6L471.0 432.7L471.5 432.9L472.0 433.0L472.5 433.1L473.0 433.2L473.5 433.4L474.0 433.5L474.5 433.7L475.0 433.8L475.5 434.0L476.0 434.1L476.5 434.2L477.0 434.2L477.5 434.2L478.0 434.2L478.5 434.1L479.0 434.0L479.5 433.8L480.0 433.6L480.5 433.3L481.0 433.0L481.5 432.6L482.0 432.2L482.5 431.7L483.0 431.2L483.5 430.6L484.0 430.0L484.5 429.3L485.0 428.5L485.5 427.7L486.0 426.8L486.5 425.9L487.0 424.9L487.5 423.8L488.0 422.6L488.5 421.4L489.0 420.1L489.5 418.7L490.0 417.4L490.5 416.1L491.0 414.8L491.5 413.6L492.0 412.5L492.5 411.4L493.0 410.4L493.5 409.5L494.0 408.6L494.5 407.7L495.0 406.8L495.5 405.9L496.0 405.1L496.5 404.2L497.0 403.3L497.5 402.3L498.0 401.4L498.5 400.4L499.0 399.4L499.5 398.4L500.0 397.3L500.5 396.3L501.0 395.3L501.5 394.2L502.0 393.1L502.5 392.1L503.0 391.0L503.5 389.9L504.0 388.8L504.0 389.3L503.5 389.2L503.0 389.1L502.5 389.0L502.0 388.9L501.5 388.8L501.0 388.7L500.5 388.7L500.0 388.6L499.5 388.5L499.0 388.4L498.5 388.4L498.0 388.3L497.5 388.2L497.0 388.2L496.5 388.1L496.0 388.0L495.5 388.0L495.0 387.9L494.5 387.9L494.0 387.8L493.5 387.7L493.0 387.7L492.5 387.6L492.0 387.6L491.5 387.5L491.0 387.4L490.5 387.4L490.0 387.3L489.5 387.2L489.0 387.2L488.5 387.1L488.0 387.0L487.5 386.9L487.0 386.9L486.5 386.8L486.0 386.7L485.5 386.6L485.0 386.5L484.5 386.4L484.0 386.3L483.5 386.2L483.0 386.1L482.5 386.0L482.0 385.9L481.5 385.8L481.0 385.7L480.5 385.6L480.0 385.5L479.5 385.4L479.0 385.3L478.5 385.2L478.0 385.1L477.5 385.0L477.0 384.9L476.5 384.8L476.0 384.7L475.5 384.6L475.0 384.4L474.5 384.3L474.0 384.2L473.5 384.1L473.0 383.9L472.5 383.8L472.0 383.7L471.5 383.5L471.0 383.3L470.5 383.2L470.0 383.0L469.5 382.8L469.0 382.6L468.5 382.4L468.0 382.2L467.5 382.0L467.0 381.8L466.5 381.5L466.0 381.2L465.5 381.0L465.0 380.7L464.5 380.4L464.0 380.1L463.5 379.8L463.0 379.5L462.5 379.1L462.0 378.8L461.5 378.5L461.0 378.1L460.5 377.8L460.0 377.4L459.5 377.1L459.0 376.7L458.5 376.3L458.0 375.9L457.5 375.6L457.0 375.2L456.5 374.8L456.0 374.4L455.5 374.0L455.0 373.6L454.5 373.2L454.0 372.7L453.5 372.3L453.0 371.9L452.5 371.5L452.0 371.0L451.5 370.6L451.0 370.2L450.5 369.8L450.0 369.5L449.5 369.1L449.0 368.8L448.5 368.4L448.0 368.1L447.5 367.8L447.0 367.5L446.5 367.3L446.0 367.0L445.5 366.7L445.0 366.5L444.5 366.2L444.0 366.0L443.5 365.7L443.0 365.4L442.5 365.2L442.0 364.9L441.5 364.6L441.0 364.3L440.5 364.0L440.0 363.7L439.5 363.3L439.0 363.0L438.5 362.6L438.0 362.3L437.5 361.9L437.0 361.5L436.5 361.2L436.0 360.8L435.5 360.4L435.0 360.0L434.5 359.6L434.0 359.2L433.5 358.8L433.0 358.4L432.5 357.9L432.0 357.5L431.5 357.1L431.0 356.7L430.5 356.3L430.0 355.8L429.5 355.4L429.0 354.9L428.5 354.5L428.0 354.0L427.5 353.6L427.0 353.1L426.5 352.7L426.0 352.2L425.5 351.7L425.0 351.2L424.5 350.8L424.0 350.3L423.5 349.8L423.0 349.3L422.5 348.8L422.0 348.3L421.5 347.9L421.0 347.4L420.5 346.9L420.0 346.4L419.5 345.9L419.0 345.4L418.5 345.0L418.0 344.5L417.5 344.0L417.0 343.5L416.5 343.1L416.0 342.6L415.5 342.2L415.0 341.7L414.5 341.2L414.0 340.8L413.5 340.3L413.0 339.9L412.5 339.4L412.0 338.9L411.5 338.5L411.0 338.0L410.5 337.6L410.0 337.1L409.5 336.6L409.0 336.1L408.5 335.7L408.0 335.2L407.5 334.7L407.0 334.2L406.5 333.7L406.0 333.2L405.5 332.7L405.0 332.2L404.5 331.7L404.0 331.1L403.5 330.6L403.0 330.0L402.5 329.5L402.0 328.9L401.5 328.4L401.0 327.8L400.5 327.2L400.0 326.7L399.5 326.1L399.0 325.5L398.5 325.0L398.0 324.4L397.5 323.8L397.0 323.2L396.5 322.6L396.0 322.1L395.5 321.5L395.0 320.9L394.5 320.3L394.0 319.8L393.5 319.2L393.0 318.6L392.5 318.1L392.0 317.5L391.5 316.9L391.0 316.3L390.5 315.7L390.0 315.2L389.5 314.6L389.0 314.0L388.5 313.5L388.0 312.9L387.5 312.4L387.0 311.9L386.5 311.4L386.0 311.0L385.5 310.6L385.0 310.1L384.5 309.8L384.0 309.4L383.5 309.0L383.0 308.7L382.5 308.3L382.0 308.0L381.5 307.7L381.0 307.5L380.5 307.2L380.0 306.9L379.5 306.7L379.0 306.5L378.5 306.3L378.0 306.1L377.5 306.0L377.0 305.8L376.5 305.7L376.0 305.5L375.5 305.4L375.0 305.3L374.5 305.1L374.0 305.0L373.5 304.9L373.0 304.8L372.5 304.7L372.0 304.5L371.5 304.4L371.0 304.3L370.5 304.3L370.0 304.2L369.5 304.1L369.0 304.0L368.5 303.9L368.0 303.9L367.5 303.8L367.0 303.8L366.5 303.7L366.0 303.6L365.5 303.6L365.0 303.6L364.5 303.5L364.0 303.5L363.5 303.5L363.0 303.4L362.5 303.4L362.0 303.4L361.5 303.4L361.0 303.4L360.5 303.4L360.0 303.4L359.5 303.5L359.0 303.5L358.5 303.5L358.0 303.5L357.5 303.5L357.0 303.5L356.5 303.5L356.0 303.6L355.5 303.6L355.0 303.5L354.5 303.5L354.0 303.5L353.5 303.5L353.0 303.4L352.5 303.4L352.0 303.3L351.5 303.3L351.0 303.2L350.5 303.2L350.0 303.1L349.5 303.0L349.0 303.0L348.5 302.9L348.0 302.8L347.5 302.7L347.0 302.7L346.5 302.6L346.0 302.5L345.5 302.4L345.0 302.3L344.5 302.3L344.0 302.2L343.5 302.1L343.0 302.1L342.5 302.0L342.0 301.9L341.5 301.9L341.0 301.8L340.5 301.7L340.0 301.7L339.5 301.6L339.0 301.6L338.5 301.5L338.0 301.4L337.5 301.4L337.0 301.3L336.5 301.3L336.0 301.2L335.5 301.2L335.0 301.1L334.5 301.1L334.0 301.0L333.5 300.9L333.0 300.9L332.5 300.8L332.0 300.8L331.5 300.7L331.0 300.7L330.5 300.6L330.0 300.6L329.5 300.5L329.0 300.5L328.5 300.4L328.0 300.4L327.5 300.3L327.0 300.3L326.5 300.2L326.0 300.2L325.5 300.1L325.0 300.1L324.5 300.0L324.0 300.0L323.5 299.9L323.0 299.8L322.5 299.8L322.0 299.7L321.5 299.7L321.0 299.7L320.5 299.6L320.0 299.6L319.5 299.6L319.0 299.6L318.5 299.6L318.0 299.6L317.5 299.6L317.0 299.7L316.5 299.7L316.0 299.7L315.5 299.8L315.0 299.8L314.5 299.9L314.0 300.0L313.5 300.2L313.0 300.3L312.5 300.5L312.0 300.8L311.5 301.0L311.0 301.3L310.5 301.6L310.0 302.0L309.5 302.3L309.0 302.7L308.5 303.0L308.0 303.4L307.5 303.7L307.0 304.0ZM668.5 259.7L669.0 261.5L669.5 263.3L670.0 265.1L670.5 266.8L671.0 268.3L671.5 269.7L672.0 271.0L672.5 272.1L673.0 273.1L673.5 274.1L674.0 275.0L674.5 275.9L675.0 276.7L675.5 277.7L676.0 278.6L676.5 279.6L677.0 280.7L677.5 281.7L678.0 282.7L678.5 283.8L679.0 284.8L679.5 285.7L680.0 286.7L680.5 287.6L681.0 288.4L681.5 289.2L682.0 290.0L682.5 290.7L683.0 291.5L683.5 292.2L684.0 292.8L684.5 293.5L685.0 294.1L685.5 294.7L686.0 295.3L686.5 295.9L687.0 296.4L687.5 296.9L688.0 297.4L688.5 297.9L689.0 298.3L689.5 298.7L690.0 299.0L690.5 299.3L691.0 299.6L691.5 299.8L692.0 300.0L692.5 300.2L693.0 300.3L693.5 300.5L694.0 300.6L694.5 300.8L695.0 301.0L695.5 301.1L696.0 301.3L696.5 301.6L697.0 301.8L697.5 302.0L698.0 302.3L698.5 302.6L699.0 302.8L699.5 303.1L700.0 303.3L700.5 303.6L701.0 303.8L701.5 304.0L702.0 304.1L702.5 304.3L703.0 304.4L703.5 304.5L704.0 304.6L704.5 304.7L705.0 304.7L705.5 304.8L706.0 304.9L706.5 305.0L707.0 305.2L707.5 305.4L708.0 305.6L708.5 305.9L709.0 306.2L709.5 306.6L710.0 307.0L710.5 307.4L711.0 307.9L711.5 308.4L712.0 308.9L712.5 309.4L713.0 310.0L713.5 310.5L714.0 311.0L714.5 311.5L715.0 312.0L715.5 312.5L716.0 312.9L716.5 313.4L717.0 313.9L717.5 314.4L718.0 314.9L718.5 315.4L719.0 315.9L719.5 316.3L720.0 316.8L720.5 317.3L721.0 317.8L721.5 318.3L722.0 318.8L722.5 319.3L723.0 319.8L723.5 320.4L724.0 320.9L724.5 321.4L725.0 321.9L725.5 322.4L726.0 322.9L726.5 323.4L727.0 323.8L727.5 324.3L728.0 324.7L728.5 325.1L729.0 325.6L729.5 325.9L730.0 326.3L730.5 326.7L731.0 327.1L731.5 327.4L732.0 327.8L732.5 328.1L733.0 328.4L733.5 328.8L734.0 329.2L734.5 329.7L735.0 330.2L735.5 330.8L736.0 331.4L736.5 331.9L737.0 332.2L737.5 332.2L738.0 331.9L738.5 331.2L739.0 330.1L739.5 328.6L740.0 327.0L740.5 325.4L741.0 324.0L741.5 322.8L742.0 321.9L742.5 321.2L743.0 320.6L743.5 320.2L744.0 319.7L744.5 319.3L745.0 318.9L745.5 318.5L746.0 318.1L746.5 317.7L747.0 317.3L747.5 316.9L748.0 316.6L748.5 316.2L749.0 315.8L749.5 315.3L750.0 314.9L750.5 314.4L751.0 313.9L751.5 313.4L752.0 312.8L752.5 312.2L753.0 311.7L753.5 311.1L754.0 310.5L754.5 309.9L755.0 309.2L755.5 308.6L756.0 308.0L756.5 307.3L757.0 306.7L757.5 306.0L758.0 305.3L758.5 304.6L759.0 303.8L759.5 303.1L760.0 302.4L760.5 301.7L761.0 301.0L761.5 300.3L762.0 299.7L762.5 299.0L763.0 298.4L763.5 297.9L764.0 297.3L764.5 296.8L765.0 296.3L765.5 295.7L766.0 295.2L766.5 294.6L767.0 294.0L767.5 293.3L768.0 292.7L768.5 292.0L769.0 291.3L769.5 290.6L770.0 289.8L770.5 289.0L771.0 288.1L771.5 287.2L772.0 286.3L772.0 287.0L771.5 286.7L771.0 286.4L770.5 286.1L770.0 285.8L769.5 285.4L769.0 285.1L768.5 284.8L768.0 284.4L767.5 284.1L767.0 283.7L766.5 283.4L766.0 283.0L765.5 282.7L765.0 282.3L764.5 282.0L764.0 281.7L763.5 281.3L763.0 281.0L762.5 280.6L762.0 280.3L761.5 280.0L761.0 279.7L760.5 279.4L760.0 279.1L759.5 278.8L759.0 278.5L758.5 278.2L758.0 277.9L757.5 277.6L757.0 277.2L756.5 276.9L756.0 276.6L755.5 276.2L755.0 275.9L754.5 275.5L754.0 275.1L753.5 274.7L753.0 274.3L752.5 273.8L752.0 273.4L751.5 272.9L751.0 272.4L750.5 271.8L750.0 271.3L749.5 270.8L749.0 270.2L748.5 269.7L748.0 269.2L747.5 268.6L747.0 268.1L746.5 267.6L746.0 267.2L745.5 266.7L745.0 266.3L744.5 265.9L744.0 265.5L743.5 265.2L743.0 264.8L742.5 264.5L742.0 264.1L741.5 263.8L741.0 263.5L740.5 263.2L740.0 262.8L739.5 262.5L739.0 262.2L738.5 261.8L738.0 261.5L737.5 261.1L737.0 260.7L736.5 260.4L736.0 260.0L735.5 259.6L735.0 259.2L734.5 258.8L734.0 258.4L733.5 258.0L733.0 257.6L732.5 257.2L732.0 256.8L731.5 256.3L731.0 255.9L730.5 255.5L730.0 255.0L729.5 254.5L729.0 254.1L728.5 253.6L728.0 253.1L727.5 252.5L727.0 252.0L726.5 251.5L726.0 251.0L725.5 250.6L725.0 250.1L724.5 249.7L724.0 249.4L723.5 249.0L723.0 248.8L722.5 248.5L722.0 248.3L721.5 248.2L721.0 248.1L720.5 248.1L720.0 248.0L719.5 248.0L719.0 248.1L718.5 248.1L718.0 248.1L717.5 248.1L717.0 248.1L716.5 248.2L716.0 248.2L715.5 248.2L715.0 248.3L714.5 248.3L714.0 248.4L713.5 248.4L713.0 248.5L712.5 248.5L712.0 248.6L711.5 248.7L711.0 248.7L710.5 248.8L710.0 248.8L709.5 248.9L709.0 248.9L708.5 249.0L708.0 249.0L707.5 249.1L707.0 249.1L706.5 249.2L706.0 249.3L705.5 249.3L705.0 249.4L704.5 249.4L704.0 249.5L703.5 249.5L703.0 249.6L702.5 249.7L702.0 249.7L701.5 249.7L701.0 249.8L700.5 249.8L700.0 249.9L699.5 249.9L699.0 250.0L698.5 250.0L698.0 250.1L697.5 250.1L697.0 250.2L696.5 250.3L696.0 250.4L695.5 250.4L695.0 250.5L694.5 250.6L694.0 250.7L693.5 250.9L693.0 251.0L692.5 251.1L692.0 251.3L691.5 251.4L691.0 251.6L690.5 251.7L690.0 251.9L689.5 252.1L689.0 252.3L688.5 252.4L688.0 252.6L687.5 252.8L687.0 253.0L686.5 253.2L686.0 253.3L685.5 253.5L685.0 253.7L684.5 253.9L684.0 254.0L683.5 254.2L683.0 254.4L682.5 254.5L682.0 254.7L681.5 254.8L681.0 255.0L680.5 255.1L680.0 255.3L679.5 255.4L679.0 255.6L678.5 255.7L678.0 255.9L677.5 256.0L677.0 256.2L676.5 256.3L676.0 256.4L675.5 256.6L675.0 256.7L674.5 256.9L674.0 257.0L673.5 257.1L673.0 257.3L672.5 257.4L672.0 257.5L671.5 257.7L671.0 257.8L670.5 257.9L670.0 258.1L669.5 258.2L669.0 258.3L668.5 258.4Z" fill="rgba(242,54,69,0.2)"/>

<path d="M7.0 384.4L8.0 384.3L9.0 384.1L10.0 383.9L11.0 383.6L12.0 383.4L13.0 383.1L14.0 382.8L15.0 382.6L16.0 382.3L17.0 382.0L18.0 381.7L19.0 381.5L20.0 381.2L21.0 380.9L22.0 380.7L23.0 380.4L24.0 380.2L25.0 379.9L26.0 379.7L27.0 379.4L28.0 379.2L29.0 378.9L30.0 378.7L31.0 378.5L32.0 378.3L33.0 378.0L34.0 377.8L35.0 377.6L36.0 377.4L37.0 377.2L38.0 377.0L39.0 376.8L40.0 376.6L41.0 376.4L42.0 376.2L43.0 376.0L44.0 375.8L45.0 375.7L46.0 375.5L47.0 375.3L48.0 375.2L49.0 375.0L50.0 374.8L51.0 374.7L52.0 374.5L53.0 374.4L54.0 374.3L55.0 374.1L56.0 374.0L57.0 373.9L58.0 373.7L59.0 373.6L60.0 373.5L61.0 373.4L62.0 373.3L63.0 373.1L64.0 373.0L65.0 372.9L66.0 372.8L67.0 372.6L68.0 372.5L69.0 372.4L70.0 372.2L71.0 372.1L72.0 372.0L73.0 371.8L74.0 371.7L75.0 371.6L76.0 371.4L77.0 371.3L78.0 371.1L79.0 371.0L80.0 370.9L81.0 370.7L82.0 370.6L83.0 370.4L84.0 370.3L85.0 370.2L86.0 370.0L87.0 369.9L88.0 369.7L89.0 369.6L90.0 369.5L91.0 369.3L92.0 369.2L93.0 369.1L94.0 368.9L95.0 368.8L96.0 368.6L97.0 368.5L98.0 368.4L99.0 368.2L100.0 368.1L101.0 367.9L102.0 367.7L103.0 367.6L104.0 367.4L105.0 367.2L106.0 367.0L107.0 366.9L108.0 366.7L109.0 366.5L110.0 366.3L111.0 366.1L112.0 365.9L113.0 365.7L114.0 365.5L115.0 365.3L116.0 365.1L117.0 364.9L118.0 364.7L119.0 364.5L120.0 364.3L121.0 364.1L122.0 363.9L123.0 363.7L124.0 363.4L125.0 363.2L126.0 363.0L127.0 362.8L128.0 362.6L129.0 362.4L130.0 362.2L131.0 362.0L132.0 361.8L133.0 361.6L134.0 361.4L135.0 361.2L136.0 361.0L137.0 360.8L138.0 360.6L139.0 360.4L140.0 360.2L141.0 359.9L142.0 359.7L143.0 359.5L144.0 359.2L145.0 359.0L146.0 358.7L147.0 358.4L148.0 358.2L149.0 357.9L150.0 357.6L151.0 357.4L152.0 357.1L153.0 356.9L154.0 356.6L155.0 356.4L156.0 356.2L157.0 355.9L158.0 355.7L159.0 355.5L160.0 355.4L161.0 355.2L162.0 355.0L163.0 354.9L164.0 354.7L165.0 354.6L166.0 354.5L167.0 354.3L168.0 354.2L169.0 354.1L170.0 354.0L171.0 353.9L172.0 353.8L173.0 353.7L174.0 353.5L175.0 353.4L176.0 353.3L177.0 353.2L178.0 353.1L179.0 352.9L180.0 352.8L181.0 352.7L182.0 352.5L183.0 352.4L184.0 352.2L185.0 352.1L186.0 351.9L187.0 351.8L188.0 351.6L189.0 351.4L190.0 351.3L191.0 351.1L192.0 351.0L193.0 350.8L194.0 350.6L195.0 350.5L196.0 350.3L197.0 350.1L198.0 349.9L199.0 349.8L200.0 349.6L201.0 349.4L202.0 349.2L203.0 349.1L204.0 348.9L205.0 348.7L206.0 348.5L207.0 348.3L208.0 348.2L209.0 348.0L210.0 347.8L211.0 347.6L212.0 347.4L213.0 347.3L214.0 347.1L215.0 346.9L216.0 346.7L217.0 346.5L218.0 346.3L219.0 346.1L220.0 345.9L221.0 345.7L222.0 345.5L223.0 345.3L224.0 345.1L225.0 344.8L226.0 344.6L227.0 344.4L228.0 344.1L229.0 343.9L230.0 343.6L231.0 343.3L232.0 343.0L233.0 342.7L234.0 342.5L235.0 342.1L236.0 341.8L237.0 341.5L238.0 341.2L239.0 340.9L240.0 340.6L241.0 340.3L242.0 339.9L243.0 339.6L244.0 339.3L245.0 339.0L246.0 338.7L247.0 338.5L248.0 338.2L249.0 337.9L250.0 337.7L251.0 337.4L252.0 337.2L253.0 337.0L254.0 336.7L255.0 336.5L256.0 336.3L257.0 336.1L258.0 335.9L259.0 335.7L260.0 335.4L261.0 335.2L262.0 335.0L263.0 334.8L264.0 334.6L265.0 334.4L266.0 334.2L267.0 334.0L268.0 333.8L269.0 333.6L270.0 333.4L271.0 333.2L272.0 333.1L273.0 332.9L274.0 332.7L275.0 332.5L276.0 332.3L277.0 332.1L278.0 331.9L279.0 331.8L280.0 331.6L281.0 331.4L282.0 331.2L283.0 331.1L284.0 330.9L285.0 330.7L286.0 330.5L287.0 330.4L288.0 330.2L289.0 330.0L290.0 329.8L291.0 329.7L292.0 329.5L293.0 329.3L294.0 329.2L295.0 329.0L296.0 328.8L297.0 328.7L298.0 328.5L299.0 328.4L300.0 328.2L301.0 328.1L302.0 327.9L303.0 327.8L304.0 327.7L305.0 327.5L306.0 327.4L307.0 327.3L308.0 327.2L309.0 327.1L310.0 327.0L311.0 326.9L312.0 326.8L313.0 326.7L314.0 326.6L315.0 326.5L316.0 326.4L317.0 326.3L318.0 326.2L319.0 326.2L320.0 326.1L321.0 326.0L322.0 325.9L323.0 325.8L324.0 325.7L325.0 325.6L326.0 325.5L327.0 325.4L328.0 325.3L329.0 325.2L330.0 325.1L331.0 325.0L332.0 324.8L333.0 324.7L334.0 324.6L335.0 324.5L336.0 324.4L337.0 324.3L338.0 324.2L339.0 324.0L340.0 323.9L341.0 323.8L342.0 323.7L343.0 323.6L344.0 323.4L345.0 323.3L346.0 323.2L347.0 323.0L348.0 322.9L349.0 322.8L350.0 322.6L351.0 322.5L352.0 322.4L353.0 322.2L354.0 322.1L355.0 321.9L356.0 321.8L357.0 321.6L358.0 321.4L359.0 321.3L360.0 321.1L361.0 320.9L362.0 320.8L363.0 320.6L364.0 320.4L365.0 320.3L366.0 320.1L367.0 320.0L368.0 319.8L369.0 319.7L370.0 319.5L371.0 319.4L372.0 319.3L373.0 319.1L374.0 319.0L375.0 318.9L376.0 318.8L377.0 318.7L378.0 318.6L379.0 318.5L380.0 318.4L381.0 318.3L382.0 318.2L383.0 318.1L384.0 318.0L385.0 317.9L386.0 317.9L387.0 317.8L388.0 317.7L389.0 317.6L390.0 317.6L391.0 317.5L392.0 317.4L393.0 317.4L394.0 317.3L395.0 317.3L396.0 317.2L397.0 317.1L398.0 317.1L399.0 317.0L400.0 317.0L401.0 317.0L402.0 316.9L403.0 316.9L404.0 316.8L405.0 316.8L406.0 316.8L407.0 316.8L408.0 316.8L409.0 316.7L410.0 316.7L411.0 316.7L412.0 316.7L413.0 316.7L414.0 316.7L415.0 316.7L416.0 316.7L417.0 316.7L418.0 316.8L419.0 316.8L420.0 316.8L421.0 316.8L422.0 316.8L423.0 316.9L424.0 316.9L425.0 316.9L426.0 317.0L427.0 317.0L428.0 317.1L429.0 317.1L430.0 317.2L431.0 317.2L432.0 317.3L433.0 317.3L434.0 317.4L435.0 317.4L436.0 317.5L437.0 317.5L438.0 317.6L439.0 317.6L440.0 317.7L441.0 317.8L442.0 317.8L443.0 317.9L444.0 317.9L445.0 318.0L446.0 318.0L447.0 318.1L448.0 318.1L449.0 318.2L450.0 318.3L451.0 318.3L452.0 318.4L453.0 318.4L454.0 318.5L455.0 318.6L456.0 318.6L457.0 318.7L458.0 318.7L459.0 318.8L460.0 318.8L461.0 318.9L462.0 318.9L463.0 319.0L464.0 319.0L465.0 319.0L466.0 319.1L467.0 319.1L468.0 319.1L469.0 319.1L470.0 319.2L471.0 319.2L472.0 319.2L473.0 319.2L474.0 319.2L475.0 319.2L476.0 319.2L477.0 319.2L478.0 319.2L479.0 319.2L480.0 319.3L481.0 319.3L482.0 319.3L483.0 319.3L484.0 319.3L485.0 319.4L486.0 319.4L487.0 319.4L488.0 319.5L489.0 319.5L490.0 319.6L491.0 319.7L492.0 319.8L493.0 319.8L494.0 319.9L495.0 320.1L496.0 320.2L497.0 320.3L498.0 320.4L499.0 320.6L500.0 320.7L501.0 320.9L502.0 321.0L503.0 321.2L504.0 321.3L505.0 321.5L506.0 321.7L507.0 321.8L508.0 322.0L509.0 322.2L510.0 322.3L511.0 322.5L512.0 322.6L513.0 322.8L514.0 323.0L515.0 323.1L516.0 323.3L517.0 323.4L518.0 323.6L519.0 323.8L520.0 323.9L521.0 324.1L522.0 324.2L523.0 324.4L524.0 324.6L525.0 324.8L526.0 324.9L527.0 325.1L528.0 325.3L529.0 325.5L530.0 325.6L531.0 325.8L532.0 326.0L533.0 326.2L534.0 326.4L535.0 326.6L536.0 326.8L537.0 327.0L538.0 327.2L539.0 327.4L540.0 327.6L541.0 327.8L542.0 328.0L543.0 328.2L544.0 328.4L545.0 328.6L546.0 328.8L547.0 329.0L548.0 329.2L549.0 329.4L550.0 329.6L551.0 329.8L552.0 330.0L553.0 330.2L554.0 330.4L555.0 330.5L556.0 330.7L557.0 330.9L558.0 331.1L559.0 331.3L560.0 331.5L561.0 331.7L562.0 331.9L563.0 332.1L564.0 332.2L565.0 332.4L566.0 332.6L567.0 332.7L568.0 332.9L569.0 333.0L570.0 333.2L571.0 333.3L572.0 333.4L573.0 333.4L574.0 333.5L575.0 333.5L576.0 333.6L577.0 333.6L578.0 333.6L579.0 333.6L580.0 333.5L581.0 333.5L582.0 333.4L583.0 333.4L584.0 333.3L585.0 333.3L586.0 333.2L587.0 333.1L588.0 333.0L589.0 333.0L590.0 332.9L591.0 332.8L592.0 332.7L593.0 332.6L594.0 332.5L595.0 332.4L596.0 332.2L597.0 332.1L598.0 332.0L599.0 331.9L600.0 331.8L601.0 331.7L602.0 331.6L603.0 331.5L604.0 331.5L605.0 331.4L606.0 331.3L607.0 331.2L608.0 331.1L609.0 331.1L610.0 331.0L611.0 330.9L612.0 330.8L613.0 330.8L614.0 330.7L615.0 330.6L616.0 330.6L617.0 330.5L618.0 330.4L619.0 330.4L620.0 330.3L621.0 330.2L622.0 330.1L623.0 330.1L624.0 330.0L625.0 329.9L626.0 329.8L627.0 329.8L628.0 329.7L629.0 329.6L630.0 329.5L631.0 329.5L632.0 329.4L633.0 329.3L634.0 329.3L635.0 329.2L636.0 329.2L637.0 329.1L638.0 329.1L639.0 329.1L640.0 329.0L641.0 329.0L642.0 329.0L643.0 329.0L644.0 329.0L645.0 329.1L646.0 329.1L647.0 329.1L648.0 329.2L649.0 329.2L650.0 329.3L651.0 329.4L652.0 329.4L653.0 329.5L654.0 329.6L655.0 329.6L656.0 329.7L657.0 329.8L658.0 329.9L659.0 330.0L660.0 330.0L661.0 330.1L662.0 330.2L663.0 330.3L664.0 330.3L665.0 330.4L666.0 330.5L667.0 330.5L668.0 330.6L669.0 330.6L670.0 330.6L671.0 330.7L672.0 330.7L673.0 330.7L674.0 330.7L675.0 330.7L676.0 330.7L677.0 330.7L678.0 330.7L679.0 330.7L680.0 330.7L681.0 330.7L682.0 330.7L683.0 330.7L684.0 330.6L685.0 330.6L686.0 330.6L687.0 330.6L688.0 330.6L689.0 330.5L690.0 330.5L691.0 330.5L692.0 330.5L693.0 330.5L694.0 330.4L695.0 330.4L696.0 330.4L697.0 330.4L698.0 330.4L699.0 330.4L700.0 330.4L701.0 330.4L702.0 330.4L703.0 330.4L704.0 330.4L705.0 330.5L706.0 330.5L707.0 330.5L708.0 330.6L709.0 330.6L710.0 330.6L711.0 330.7L712.0 330.7L713.0 330.8L714.0 330.8L715.0 330.9L716.0 330.9L717.0 331.0L718.0 331.0L719.0 331.1L720.0 331.2L721.0 331.2L722.0 331.3L723.0 331.3L724.0 331.4L725.0 331.4L726.0 331.5L727.0 331.5L728.0 331.6L729.0 331.6L730.0 331.7L731.0 331.7L732.0 331.8L733.0 331.8L734.0 331.9L735.0 331.9L736.0 331.9L737.0 331.9L738.0 332.0L739.0 332.0L740.0 332.0L741.0 332.0L742.0 332.0L743.0 332.0L744.0 332.0L745.0 332.0L746.0 332.0L747.0 332.0L748.0 331.9L749.0 331.9L750.0 331.9L751.0 331.9L752.0 331.9L753.0 331.9L754.0 331.8L755.0 331.8L756.0 331.8L757.0 331.8L758.0 331.7L759.0 331.7L760.0 331.7L761.0 331.7L762.0 331.7L763.0 331.6L764.0 331.6L765.0 331.6L766.0 331.6L767.0 331.6L768.0 331.6L769.0 331.5L770.0 331.5L771.0 331.5L772.0 331.5L773.0 331.5L774.0 331.5L775.0 331.5L776.0 331.5L777.0 331.4L778.0 331.4L779.0 331.4L780.0 331.4L781.0 331.4L782.0 331.4L783.0 331.4L784.0 331.4L785.0 331.3L786.0 331.3L787.0 331.3L788.0 331.3" stroke="#fdd835" stroke-width="1.6" fill="none" stroke-linejoin="round"/>
<path d="M7.0 322.5L7.5 322.5L8.0 322.5L8.5 322.6L9.0 322.6L9.5 322.7L10.0 322.8L10.5 322.8L11.0 322.9L11.5 322.9L12.0 323.0L12.5 323.1L13.0 323.1L13.5 323.2L14.0 323.3L14.5 323.4L15.0 323.5L15.5 323.6L16.0 323.7L16.5 323.8L17.0 323.9L17.5 324.1L18.0 324.2L18.5 324.3L19.0 324.5L19.5 324.6L20.0 324.8L20.5 324.9L21.0 325.1L21.5 325.3L22.0 325.4L22.5 325.6L23.0 325.8L23.5 326.0L24.0 326.2L24.5 326.5L25.0 326.7L25.5 326.9L26.0 327.2L26.5 327.5L27.0 327.7L27.5 328.0L28.0 328.3L28.5 328.5L29.0 328.8L29.5 329.1L30.0 329.3L30.5 329.6L31.0 329.8L31.5 330.1L32.0 330.3L32.5 330.5L33.0 330.7L33.5 330.9L34.0 331.1L34.5 331.3L35.0 331.5L35.5 331.7L36.0 331.9L36.5 332.1L37.0 332.3L37.5 332.5L38.0 332.7L38.5 332.9L39.0 333.1L39.5 333.3L40.0 333.5L40.5 333.7L41.0 334.0L41.5 334.2L42.0 334.4L42.5 334.7L43.0 334.9L43.5 335.2L44.0 335.4L44.5 335.7L45.0 335.9L45.5 336.2L46.0 336.5L46.5 336.7L47.0 337.0L47.5 337.3L48.0 337.5L48.5 337.8L49.0 338.1L49.5 338.4L50.0 338.6L50.5 338.9L51.0 339.2L51.5 339.5L52.0 339.8L52.5 340.1L53.0 340.4L53.5 340.7L54.0 341.1L54.5 341.4L55.0 341.8L55.5 342.1L56.0 342.5L56.5 342.9L57.0 343.3L57.5 343.8L58.0 344.2L58.5 344.6L59.0 345.0L59.5 345.5L60.0 345.9L60.5 346.3L61.0 346.7L61.5 347.1L62.0 347.5L62.5 347.9L63.0 348.3L63.5 348.6L64.0 348.9L64.5 349.3L65.0 349.6L65.5 349.9L66.0 350.2L66.5 350.5L67.0 350.8L67.5 351.0L68.0 351.3L68.5 351.6L69.0 351.9L69.5 352.1L70.0 352.4L70.5 352.6L71.0 352.9L71.5 353.2L72.0 353.4L72.5 353.7L73.0 353.9L73.5 354.2L74.0 354.5L74.5 354.7L75.0 355.0L75.5 355.2L76.0 355.5L76.5 355.7L77.0 355.9L77.5 356.2L78.0 356.4L78.5 356.7L79.0 356.9L79.5 357.1L80.0 357.4L80.5 357.6L81.0 357.8L81.5 358.1L82.0 358.3L82.5 358.6L83.0 358.8L83.5 359.1L84.0 359.3L84.5 359.6L85.0 359.9L85.5 360.2L86.0 360.4L86.5 360.7L87.0 361.0L87.5 361.3L88.0 361.6L88.5 361.9L89.0 362.2L89.5 362.5L90.0 362.8L90.5 363.1L91.0 363.4L91.5 363.7L92.0 364.0L92.5 364.2L93.0 364.5L93.5 364.8L94.0 365.0L94.5 365.3L95.0 365.6L95.5 365.8L96.0 366.1L96.5 366.3L97.0 366.5L97.5 366.8L98.0 367.0L98.5 367.2L99.0 367.4L99.5 367.6L100.0 367.8L100.5 367.9L101.0 368.1L101.5 368.2L102.0 368.3L102.5 368.4L103.0 368.5L103.5 368.6L104.0 368.7L104.5 368.8L105.0 368.9L105.5 368.9L106.0 368.9L106.5 369.0L107.0 369.0L107.5 369.0L108.0 369.0L108.5 368.9L109.0 368.9L109.5 368.8L110.0 368.8L110.5 368.7L111.0 368.6L111.5 368.6L112.0 368.5L112.5 368.5L113.0 368.4L113.5 368.4L114.0 368.4L114.5 368.4L115.0 368.5L115.5 368.5L116.0 368.5L116.5 368.6L117.0 368.6L117.5 368.7L118.0 368.8L118.5 368.9L119.0 369.0L119.5 369.1L120.0 369.2L120.5 369.3L121.0 369.5L121.5 369.7L122.0 369.8L122.5 370.1L123.0 370.3L123.5 370.5L124.0 370.8L124.5 371.1L125.0 371.4L125.5 371.7L126.0 372.0L126.5 372.4L127.0 372.7L127.5 373.0L128.0 373.3L128.5 373.6L129.0 373.9L129.5 374.2L130.0 374.5L130.5 374.7L131.0 375.0L131.5 375.2L132.0 375.4L132.5 375.6L133.0 375.8L133.5 376.0L134.0 376.2L134.5 376.4L135.0 376.6L135.5 376.8L136.0 376.9L136.5 377.1L137.0 377.3L137.5 377.4L138.0 377.6L138.5 377.8L139.0 378.0L139.5 378.1L140.0 378.3L140.5 378.5L141.0 378.7L141.5 378.9L142.0 379.0L142.5 379.2L143.0 379.4L143.5 379.6L144.0 379.8L144.5 379.9L145.0 380.1L145.5 380.3L146.0 380.5L146.5 380.7L147.0 380.8L147.5 381.0L148.0 381.2L148.5 381.4L149.0 381.6L149.5 381.7L150.0 381.9L150.5 382.1L151.0 382.3L151.5 382.5L152.0 382.7L152.5 382.8L153.0 383.0L153.5 383.2L154.0 383.4L154.5 383.6L155.0 383.8L155.5 383.9L156.0 384.1L156.5 384.4L157.0 384.6L157.5 384.8L158.0 385.0L158.5 385.3L159.0 385.5L159.5 385.8L160.0 386.0L160.5 386.3L161.0 386.6L161.5 386.8L162.0 387.1L162.5 387.4L163.0 387.7L163.5 388.0L164.0 388.3L164.5 388.6L165.0 388.8L165.5 389.1L166.0 389.4L166.5 389.7L167.0 390.0L167.5 390.3L168.0 390.5L168.5 390.8L169.0 391.1L169.5 391.4L170.0 391.6L170.5 391.9L171.0 392.1L171.5 392.4L172.0 392.6L172.5 392.7L173.0 392.9L173.5 393.1L174.0 393.2L174.5 393.4L175.0 393.5L175.5 393.6L176.0 393.8L176.5 393.9L177.0 394.0L177.5 394.1L178.0 394.2L178.5 394.3L179.0 394.4L179.5 394.5L180.0 394.6L180.5 394.6L181.0 394.7L181.5 394.8L182.0 394.8L182.5 394.9L183.0 394.9L183.5 394.9L184.0 395.0L184.5 395.0L185.0 395.0L185.5 395.0L186.0 395.0L186.5 394.9L187.0 394.9L187.5 394.8L188.0 394.8L188.5 394.7L189.0 394.6L189.5 394.6L190.0 394.5L190.5 394.4L191.0 394.3L191.5 394.2L192.0 394.0L192.5 393.9L193.0 393.8L193.5 393.7L194.0 393.6L194.5 393.5L195.0 393.4L195.5 393.2L196.0 393.1L196.5 393.0L197.0 392.9L197.5 392.7L198.0 392.6L198.5 392.5L199.0 392.3L199.5 392.2L200.0 392.1L200.5 391.9L201.0 391.8L201.5 391.6L202.0 391.5L202.5 391.3L203.0 391.1L203.5 391.0L204.0 390.8L204.5 390.6L205.0 390.4L205.5 390.2L206.0 390.0L206.5 389.8L207.0 389.6L207.5 389.4L208.0 389.2L208.5 389.0L209.0 388.7L209.5 388.5L210.0 388.2L210.5 388.0L211.0 387.7L211.5 387.5L212.0 387.2L212.5 386.9L213.0 386.7L213.5 386.4L214.0 386.1L214.5 385.8L215.0 385.5L215.5 385.3L216.0 385.0L216.5 384.7L217.0 384.4L217.5 384.0L218.0 383.7L218.5 383.4L219.0 383.1L219.5 382.8L220.0 382.4L220.5 382.1L221.0 381.7L221.5 381.4L222.0 381.0L222.5 380.7L223.0 380.3L223.5 380.0L224.0 379.7L224.5 379.3L225.0 379.0L225.5 378.7L226.0 378.4L226.5 378.2L227.0 377.9L227.5 377.6L228.0 377.4L228.5 377.1L229.0 376.9L229.5 376.6L230.0 376.3L230.5 375.9L231.0 375.6L231.5 375.2L232.0 374.7L232.5 374.2L233.0 373.7L233.5 373.2L234.0 372.6L234.5 372.0L235.0 371.4L235.5 370.8L236.0 370.1L236.5 369.4L237.0 368.7L237.5 368.0L238.0 367.4L238.5 366.7L239.0 366.0L239.5 365.3L240.0 364.6L240.5 363.9L241.0 363.2L241.5 362.5L242.0 361.8L242.5 361.1L243.0 360.4L243.5 359.7L244.0 359.0L244.5 358.2L245.0 357.5L245.5 356.8L246.0 356.1L246.5 355.4L247.0 354.7L247.5 354.0L248.0 353.3L248.5 352.6L249.0 351.9L249.5 351.3L250.0 350.6L250.5 349.9L251.0 349.3L251.5 348.7L252.0 348.0L252.5 347.4L253.0 346.8L253.5 346.1L254.0 345.5L254.5 344.9L255.0 344.3L255.5 343.7L256.0 343.1L256.5 342.5L257.0 341.9L257.5 341.3L258.0 340.7L258.5 340.2L259.0 339.6L259.5 339.0L260.0 338.4L260.5 337.9L261.0 337.3L261.5 336.8L262.0 336.3L262.5 335.7L263.0 335.2L263.5 334.7L264.0 334.2L264.5 333.7L265.0 333.1L265.5 332.6L266.0 332.1L266.5 331.6L267.0 331.1L267.5 330.6L268.0 330.1L268.5 329.6L269.0 329.1L269.5 328.5L270.0 328.0L270.5 327.5L271.0 326.9L271.5 326.4L272.0 325.8L272.5 325.3L273.0 324.7L273.5 324.1L274.0 323.6L274.5 323.0L275.0 322.4L275.5 321.9L276.0 321.3L276.5 320.8L277.0 320.2L277.5 319.7L278.0 319.2L278.5 318.7L279.0 318.2L279.5 317.8L280.0 317.3L280.5 316.9L281.0 316.5L281.5 316.1L282.0 315.7L282.5 315.4L283.0 315.0L283.5 314.7L284.0 314.3L284.5 314.0L285.0 313.7L285.5 313.4L286.0 313.1L286.5 312.8L287.0 312.5L287.5 312.3L288.0 312.0L288.5 311.8L289.0 311.5L289.5 311.3L290.0 311.1L290.5 310.9L291.0 310.8L291.5 310.6L292.0 310.4L292.5 310.3L293.0 310.1L293.5 310.0L294.0 309.8L294.5 309.7L295.0 309.5L295.5 309.4L296.0 309.2L296.5 309.1L297.0 308.9L297.5 308.7L298.0 308.5L298.5 308.3L299.0 308.1L299.5 307.9L300.0 307.7L300.5 307.4L301.0 307.2L301.5 307.0L302.0 306.7L302.5 306.5L303.0 306.2L303.5 306.0L304.0 305.7L304.5 305.4L305.0 305.2L305.5 304.9L306.0 304.6L306.5 304.3L307.0 304.0L307.5 303.7L308.0 303.4L308.5 303.0L309.0 302.7L309.5 302.3L310.0 302.0L310.5 301.6L311.0 301.3L311.5 301.0L312.0 300.8L312.5 300.5L313.0 300.3L313.5 300.2L314.0 300.0L314.5 299.9L315.0 299.8L315.5 299.8L316.0 299.7L316.5 299.7L317.0 299.7L317.5 299.6L318.0 299.6L318.5 299.6L319.0 299.6L319.5 299.6L320.0 299.6L320.5 299.6L321.0 299.7L321.5 299.7L322.0 299.7L322.5 299.8L323.0 299.8L323.5 299.9L324.0 300.0L324.5 300.0L325.0 300.1L325.5 300.1L326.0 300.2L326.5 300.2L327.0 300.3L327.5 300.3L328.0 300.4L328.5 300.4L329.0 300.5L329.5 300.5L330.0 300.6L330.5 300.6L331.0 300.7L331.5 300.7L332.0 300.8L332.5 300.8L333.0 300.9L333.5 300.9L334.0 301.0L334.5 301.1L335.0 301.1L335.5 301.2L336.0 301.2L336.5 301.3L337.0 301.3L337.5 301.4L338.0 301.4L338.5 301.5L339.0 301.6L339.5 301.6L340.0 301.7L340.5 301.7L341.0 301.8L341.5 301.9L342.0 301.9L342.5 302.0L343.0 302.1L343.5 302.1L344.0 302.2L344.5 302.3L345.0 302.3L345.5 302.4L346.0 302.5L346.5 302.6L347.0 302.7L347.5 302.7L348.0 302.8L348.5 302.9L349.0 303.0L349.5 303.0L350.0 303.1L350.5 303.2L351.0 303.2L351.5 303.3L352.0 303.3L352.5 303.4L353.0 303.4L353.5 303.5L354.0 303.5L354.5 303.5L355.0 303.5L355.5 303.6L356.0 303.6L356.5 303.5L357.0 303.5L357.5 303.5L358.0 303.5L358.5 303.5L359.0 303.5L359.5 303.5L360.0 303.4L360.5 303.4L361.0 303.4L361.5 303.4L362.0 303.4L362.5 303.4L363.0 303.4L363.5 303.5L364.0 303.5L364.5 303.5L365.0 303.6L365.5 303.6L366.0 303.6L366.5 303.7L367.0 303.8L367.5 303.8L368.0 303.9L368.5 303.9L369.0 304.0L369.5 304.1L370.0 304.2L370.5 304.3L371.0 304.3L371.5 304.4L372.0 304.5L372.5 304.7L373.0 304.8L373.5 304.9L374.0 305.0L374.5 305.1L375.0 305.3L375.5 305.4L376.0 305.5L376.5 305.7L377.0 305.8L377.5 306.0L378.0 306.1L378.5 306.3L379.0 306.5L379.5 306.7L380.0 306.9L380.5 307.2L381.0 307.5L381.5 307.7L382.0 308.0L382.5 308.3L383.0 308.7L383.5 309.0L384.0 309.4L384.5 309.8L385.0 310.1L385.5 310.6L386.0 311.0L386.5 311.4L387.0 311.9L387.5 312.4L388.0 312.9L388.5 313.5L389.0 314.0L389.5 314.6L390.0 315.2L390.5 315.7L391.0 316.3L391.5 316.9L392.0 317.5L392.5 318.1L393.0 318.6L393.5 319.2L394.0 319.8L394.5 320.3L395.0 320.9L395.5 321.5L396.0 322.1L396.5 322.6L397.0 323.2L397.5 323.8L398.0 324.4L398.5 325.0L399.0 325.5L399.5 326.1L400.0 326.7L400.5 327.2L401.0 327.8L401.5 328.4L402.0 328.9L402.5 329.5L403.0 330.0L403.5 330.6L404.0 331.1L404.5 331.7L405.0 332.2L405.5 332.7L406.0 333.2L406.5 333.7L407.0 334.2L407.5 334.7L408.0 335.2L408.5 335.7L409.0 336.1L409.5 336.6L410.0 337.1L410.5 337.6L411.0 338.0L411.5 338.5L412.0 338.9L412.5 339.4L413.0 339.9L413.5 340.3L414.0 340.8L414.5 341.2L415.0 341.7L415.5 342.2L416.0 342.6L416.5 343.1L417.0 343.5L417.5 344.0L418.0 344.5L418.5 345.0L419.0 345.4L419.5 345.9L420.0 346.4L420.5 346.9L421.0 347.4L421.5 347.9L422.0 348.3L422.5 348.8L423.0 349.3L423.5 349.8L424.0 350.3L424.5 350.8L425.0 351.2L425.5 351.7L426.0 352.2L426.5 352.7L427.0 353.1L427.5 353.6L428.0 354.0L428.5 354.5L429.0 354.9L429.5 355.4L430.0 355.8L430.5 356.3L431.0 356.7L431.5 357.1L432.0 357.5L432.5 357.9L433.0 358.4L433.5 358.8L434.0 359.2L434.5 359.6L435.0 360.0L435.5 360.4L436.0 360.8L436.5 361.2L437.0 361.5L437.5 361.9L438.0 362.3L438.5 362.6L439.0 363.0L439.5 363.3L440.0 363.7L440.5 364.0L441.0 364.3L441.5 364.6L442.0 364.9L442.5 365.2L443.0 365.4L443.5 365.7L444.0 366.0L444.5 366.2L445.0 366.5L445.5 366.7L446.0 367.0L446.5 367.3L447.0 367.5L447.5 367.8L448.0 368.1L448.5 368.4L449.0 368.8L449.5 369.1L450.0 369.5L450.5 369.8L451.0 370.2L451.5 370.6L452.0 371.0L452.5 371.5L453.0 371.9L453.5 372.3L454.0 372.7L454.5 373.2L455.0 373.6L455.5 374.0L456.0 374.4L456.5 374.8L457.0 375.2L457.5 375.6L458.0 375.9L458.5 376.3L459.0 376.7L459.5 377.1L460.0 377.4L460.5 377.8L461.0 378.1L461.5 378.5L462.0 378.8L462.5 379.1L463.0 379.5L463.5 379.8L464.0 380.1L464.5 380.4L465.0 380.7L465.5 381.0L466.0 381.2L466.5 381.5L467.0 381.8L467.5 382.0L468.0 382.2L468.5 382.4L469.0 382.6L469.5 382.8L470.0 383.0L470.5 383.2L471.0 383.3L471.5 383.5L472.0 383.7L472.5 383.8L473.0 383.9L473.5 384.1L474.0 384.2L474.5 384.3L475.0 384.4L475.5 384.6L476.0 384.7L476.5 384.8L477.0 384.9L477.5 385.0L478.0 385.1L478.5 385.2L479.0 385.3L479.5 385.4L480.0 385.5L480.5 385.6L481.0 385.7L481.5 385.8L482.0 385.9L482.5 386.0L483.0 386.1L483.5 386.2L484.0 386.3L484.5 386.4L485.0 386.5L485.5 386.6L486.0 386.7L486.5 386.8L487.0 386.9L487.5 386.9L488.0 387.0L488.5 387.1L489.0 387.2L489.5 387.2L490.0 387.3L490.5 387.4L491.0 387.4L491.5 387.5L492.0 387.6L492.5 387.6L493.0 387.7L493.5 387.7L494.0 387.8L494.5 387.9L495.0 387.9L495.5 388.0L496.0 388.0L496.5 388.1L497.0 388.2L497.5 388.2L498.0 388.3L498.5 388.4L499.0 388.4L499.5 388.5L500.0 388.6L500.5 388.7L501.0 388.7L501.5 388.8L502.0 388.9L502.5 389.0L503.0 389.1L503.5 389.2L504.0 389.3L504.5 389.4L505.0 389.5L505.5 389.6L506.0 389.7L506.5 389.8L507.0 389.9L507.5 390.0L508.0 390.1L508.5 390.3L509.0 390.4L509.5 390.5L510.0 390.6L510.5 390.7L511.0 390.8L511.5 390.9L512.0 391.1L512.5 391.2L513.0 391.3L513.5 391.4L514.0 391.5L514.5 391.6L515.0 391.7L515.5 391.8L516.0 391.9L516.5 391.9L517.0 392.0L517.5 392.1L518.0 392.2L518.5 392.2L519.0 392.3L519.5 392.4L520.0 392.4L520.5 392.5L521.0 392.6L521.5 392.6L522.0 392.7L522.5 392.7L523.0 392.8L523.5 392.8L524.0 392.9L524.5 392.9L525.0 392.9L525.5 393.0L526.0 393.0L526.5 393.0L527.0 393.0L527.5 393.0L528.0 393.0L528.5 393.0L529.0 392.9L529.5 392.9L530.0 392.9L530.5 392.8L531.0 392.8L531.5 392.8L532.0 392.7L532.5 392.6L533.0 392.6L533.5 392.5L534.0 392.4L534.5 392.4L535.0 392.3L535.5 392.2L536.0 392.1L536.5 392.0L537.0 391.9L537.5 391.8L538.0 391.6L538.5 391.5L539.0 391.4L539.5 391.2L540.0 391.1L540.5 390.9L541.0 390.8L541.5 390.6L542.0 390.4L542.5 390.3L543.0 390.1L543.5 390.0L544.0 389.8L544.5 389.6L545.0 389.5L545.5 389.3L546.0 389.1L546.5 389.0L547.0 388.8L547.5 388.6L548.0 388.5L548.5 388.3L549.0 388.1L549.5 388.0L550.0 387.8L550.5 387.6L551.0 387.5L551.5 387.3L552.0 387.1L552.5 386.9L553.0 386.7L553.5 386.6L554.0 386.4L554.5 386.2L555.0 386.0L555.5 385.9L556.0 385.7L556.5 385.5L557.0 385.3L557.5 385.2L558.0 385.0L558.5 384.9L559.0 384.7L559.5 384.5L560.0 384.4L560.5 384.3L561.0 384.1L561.5 384.0L562.0 383.9L562.5 383.7L563.0 383.6L563.5 383.5L564.0 383.4L564.5 383.2L565.0 383.1L565.5 382.9L566.0 382.7L566.5 382.6L567.0 382.4L567.5 382.2L568.0 382.0L568.5 381.7L569.0 381.5L569.5 381.3L570.0 381.0L570.5 380.7L571.0 380.4L571.5 380.1L572.0 379.8L572.5 379.5L573.0 379.2L573.5 378.9L574.0 378.6L574.5 378.2L575.0 377.8L575.5 377.4L576.0 377.0L576.5 376.5L577.0 376.0L577.5 375.4L578.0 374.9L578.5 374.2L579.0 373.6L579.5 372.9L580.0 372.1L580.5 371.4L581.0 370.6L581.5 369.7L582.0 368.9L582.5 368.1L583.0 367.2L583.5 366.3L584.0 365.4L584.5 364.6L585.0 363.7L585.5 362.8L586.0 361.9L586.5 361.0L587.0 360.1L587.5 359.1L588.0 358.2L588.5 357.2L589.0 356.3L589.5 355.3L590.0 354.4L590.5 353.5L591.0 352.5L591.5 351.6L592.0 350.6L592.5 349.7L593.0 348.8L593.5 347.9L594.0 347.0L594.5 346.1L595.0 345.2L595.5 344.3L596.0 343.4L596.5 342.5L597.0 341.6L597.5 340.7L598.0 339.8L598.5 338.9L599.0 338.0L599.5 337.1L600.0 336.2L600.5 335.3L601.0 334.4L601.5 333.5L602.0 332.6L602.5 331.7L603.0 330.8L603.5 329.9L604.0 329.0L604.5 328.1L605.0 327.2L605.5 326.3L606.0 325.4L606.5 324.5L607.0 323.6L607.5 322.7L608.0 321.8L608.5 320.9L609.0 320.0L609.5 319.1L610.0 318.2L610.5 317.3L611.0 316.3L611.5 315.4L612.0 314.5L612.5 313.6L613.0 312.7L613.5 311.8L614.0 310.9L614.5 310.0L615.0 309.1L615.5 308.2L616.0 307.3L616.5 306.4L617.0 305.4L617.5 304.5L618.0 303.6L618.5 302.6L619.0 301.7L619.5 300.8L620.0 299.9L620.5 299.0L621.0 298.1L621.5 297.3L622.0 296.4L622.5 295.6L623.0 294.8L623.5 294.0L624.0 293.2L624.5 292.5L625.0 291.8L625.5 291.0L626.0 290.3L626.5 289.6L627.0 288.9L627.5 288.2L628.0 287.6L628.5 286.9L629.0 286.3L629.5 285.6L630.0 285.0L630.5 284.4L631.0 283.8L631.5 283.2L632.0 282.7L632.5 282.1L633.0 281.6L633.5 281.1L634.0 280.5L634.5 280.0L635.0 279.6L635.5 279.1L636.0 278.6L636.5 278.1L637.0 277.7L637.5 277.2L638.0 276.7L638.5 276.3L639.0 275.8L639.5 275.3L640.0 274.9L640.5 274.4L641.0 273.9L641.5 273.4L642.0 272.9L642.5 272.3L643.0 271.8L643.5 271.2L644.0 270.7L644.5 270.1L645.0 269.6L645.5 269.0L646.0 268.5L646.5 267.9L647.0 267.4L647.5 266.9L648.0 266.4L648.5 265.9L649.0 265.5L649.5 265.0L650.0 264.6L650.5 264.3L651.0 263.9L651.5 263.6L652.0 263.3L652.5 263.1L653.0 262.8L653.5 262.6L654.0 262.4L654.5 262.2L655.0 262.0L655.5 261.8L656.0 261.7L656.5 261.5L657.0 261.3L657.5 261.1L658.0 261.0L658.5 260.8L659.0 260.6L659.5 260.5L660.0 260.4L660.5 260.2L661.0 260.1L661.5 260.0L662.0 259.9L662.5 259.7L663.0 259.6L663.5 259.5L664.0 259.4L664.5 259.3L665.0 259.2L665.5 259.1L666.0 259.0L666.5 258.9L667.0 258.8L667.5 258.7L668.0 258.6L668.5 258.4L669.0 258.3L669.5 258.2L670.0 258.1L670.5 257.9L671.0 257.8L671.5 257.7L672.0 257.5L672.5 257.4L673.0 257.3L673.5 257.1L674.0 257.0L674.5 256.9L675.0 256.7L675.5 256.6L676.0 256.4L676.5 256.3L677.0 256.2L677.5 256.0L678.0 255.9L678.5 255.7L679.0 255.6L679.5 255.4L680.0 255.3L680.5 255.1L681.0 255.0L681.5 254.8L682.0 254.7L682.5 254.5L683.0 254.4L683.5 254.2L684.0 254.0L684.5 253.9L685.0 253.7L685.5 253.5L686.0 253.3L686.5 253.2L687.0 253.0L687.5 252.8L688.0 252.6L688.5 252.4L689.0 252.3L689.5 252.1L690.0 251.9L690.5 251.7L691.0 251.6L691.5 251.4L692.0 251.3L692.5 251.1L693.0 251.0L693.5 250.9L694.0 250.7L694.5 250.6L695.0 250.5L695.5 250.4L696.0 250.4L696.5 250.3L697.0 250.2L697.5 250.1L698.0 250.1L698.5 250.0L699.0 250.0L699.5 249.9L700.0 249.9L700.5 249.8L701.0 249.8L701.5 249.7L702.0 249.7L702.5 249.7L703.0 249.6L703.5 249.5L704.0 249.5L704.5 249.4L705.0 249.4L705.5 249.3L706.0 249.3L706.5 249.2L707.0 249.1L707.5 249.1L708.0 249.0L708.5 249.0L709.0 248.9L709.5 248.9L710.0 248.8L710.5 248.8L711.0 248.7L711.5 248.7L712.0 248.6L712.5 248.5L713.0 248.5L713.5 248.4L714.0 248.4L714.5 248.3L715.0 248.3L715.5 248.2L716.0 248.2L716.5 248.2L717.0 248.1L717.5 248.1L718.0 248.1L718.5 248.1L719.0 248.1L719.5 248.0L720.0 248.0L720.5 248.1L721.0 248.1L721.5 248.2L722.0 248.3L722.5 248.5L723.0 248.8L723.5 249.0L724.0 249.4L724.5 249.7L725.0 250.1L725.5 250.6L726.0 251.0L726.5 251.5L727.0 252.0L727.5 252.5L728.0 253.1L728.5 253.6L729.0 254.1L729.5 254.5L730.0 255.0L730.5 255.5L731.0 255.9L731.5 256.3L732.0 256.8L732.5 257.2L733.0 257.6L733.5 258.0L734.0 258.4L734.5 258.8L735.0 259.2L735.5 259.6L736.0 260.0L736.5 260.4L737.0 260.7L737.5 261.1L738.0 261.5L738.5 261.8L739.0 262.2L739.5 262.5L740.0 262.8L740.5 263.2L741.0 263.5L741.5 263.8L742.0 264.1L742.5 264.5L743.0 264.8L743.5 265.2L744.0 265.5L744.5 265.9L745.0 266.3L745.5 266.7L746.0 267.2L746.5 267.6L747.0 268.1L747.5 268.6L748.0 269.2L748.5 269.7L749.0 270.2L749.5 270.8L750.0 271.3L750.5 271.8L751.0 272.4L751.5 272.9L752.0 273.4L752.5 273.8L753.0 274.3L753.5 274.7L754.0 275.1L754.5 275.5L755.0 275.9L755.5 276.2L756.0 276.6L756.5 276.9L757.0 277.2L757.5 277.6L758.0 277.9L758.5 278.2L759.0 278.5L759.5 278.8L760.0 279.1L760.5 279.4L761.0 279.7L761.5 280.0L762.0 280.3L762.5 280.6L763.0 281.0L763.5 281.3L764.0 281.7L764.5 282.0L765.0 282.3L765.5 282.7L766.0 283.0L766.5 283.4L767.0 283.7L767.5 284.1L768.0 284.4L768.5 284.8L769.0 285.1L769.5 285.4L770.0 285.8L770.5 286.1L771.0 286.4L771.5 286.7L772.0 287.0L772.5 287.3L773.0 287.6L773.5 287.8L774.0 288.1L774.5 288.4L775.0 288.6L775.5 288.9L776.0 289.2L776.5 289.4L777.0 289.7L777.5 289.9L778.0 290.1L778.5 290.4L779.0 290.6L779.5 290.8L780.0 291.1L780.5 291.3L781.0 291.5L781.5 291.7L782.0 292.0L782.5 292.2L783.0 292.4L783.5 292.6L784.0 292.8L784.5 293.0L785.0 293.2L785.5 293.4L786.0 293.6L786.5 293.8L787.0 294.0L787.5 294.1L788.0 294.3L788.5 294.4" stroke="#2962ff" stroke-width="1.5" fill="none" stroke-linejoin="round"/>
<path d="M7.0 340.6L7.5 340.3L8.0 339.8L8.5 339.2L9.0 338.6L9.5 338.0L10.0 337.4L10.5 336.8L11.0 336.3L11.5 335.7L12.0 335.1L12.5 334.5L13.0 333.9L13.5 333.3L14.0 332.7L14.5 332.1L15.0 331.5L15.5 330.9L16.0 330.3L16.5 329.8L17.0 329.3L17.5 328.8L18.0 328.3L18.5 327.9L19.0 327.6L19.5 327.2L20.0 326.9L20.5 326.6L21.0 326.3L21.5 326.1L22.0 325.8L22.5 325.6L23.0 325.4L23.5 325.2L24.0 325.0L24.5 324.8L25.0 324.7L25.5 324.5L26.0 324.4L26.5 324.2L27.0 324.1L27.5 324.1L28.0 324.0L28.5 324.0L29.0 324.0L29.5 324.1L30.0 324.1L30.5 324.2L31.0 324.3L31.5 324.5L32.0 324.6L32.5 324.8L33.0 325.1L33.5 325.4L34.0 325.8L34.5 326.2L35.0 326.7L35.5 327.2L36.0 327.8L36.5 328.3L37.0 328.9L37.5 329.3L38.0 329.7L38.5 330.0L39.0 330.3L39.5 330.6L40.0 330.9L40.5 331.3L41.0 331.6L41.5 332.0L42.0 332.5L42.5 332.9L43.0 333.4L43.5 334.0L44.0 334.5L44.5 335.2L45.0 335.8L45.5 336.4L46.0 337.1L46.5 337.8L47.0 338.5L47.5 339.2L48.0 339.9L48.5 340.7L49.0 341.4L49.5 342.2L50.0 343.0L50.5 343.8L51.0 344.6L51.5 345.5L52.0 346.3L52.5 347.2L53.0 348.1L53.5 349.0L54.0 349.9L54.5 350.9L55.0 351.8L55.5 352.8L56.0 353.8L56.5 354.7L57.0 355.6L57.5 356.6L58.0 357.5L58.5 358.4L59.0 359.3L59.5 360.2L60.0 361.1L60.5 362.0L61.0 362.9L61.5 363.8L62.0 364.7L62.5 365.5L63.0 366.3L63.5 367.1L64.0 367.9L64.5 368.6L65.0 369.3L65.5 369.9L66.0 370.5L66.5 371.1L67.0 371.7L67.5 372.3L68.0 372.8L68.5 373.4L69.0 373.9L69.5 374.4L70.0 374.9L70.5 375.4L71.0 375.9L71.5 376.4L72.0 376.8L72.5 377.3L73.0 377.8L73.5 378.2L74.0 378.6L74.5 379.1L75.0 379.5L75.5 379.9L76.0 380.3L76.5 380.6L77.0 381.0L77.5 381.3L78.0 381.6L78.5 381.8L79.0 382.1L79.5 382.3L80.0 382.5L80.5 382.7L81.0 382.9L81.5 383.1L82.0 383.4L82.5 383.7L83.0 384.0L83.5 384.4L84.0 384.9L84.5 385.4L85.0 385.9L85.5 386.5L86.0 387.1L86.5 387.8L87.0 388.5L87.5 389.2L88.0 389.9L88.5 390.7L89.0 391.5L89.5 392.4L90.0 393.2L90.5 394.0L91.0 394.7L91.5 395.5L92.0 396.2L92.5 396.9L93.0 397.6L93.5 398.2L94.0 398.7L94.5 399.2L95.0 399.7L95.5 400.1L96.0 400.5L96.5 400.8L97.0 401.1L97.5 401.5L98.0 401.8L98.5 402.1L99.0 402.5L99.5 402.8L100.0 403.2L100.5 403.7L101.0 404.1L101.5 404.5L102.0 405.0L102.5 405.4L103.0 405.8L103.5 406.3L104.0 406.7L104.5 407.1L105.0 407.4L105.5 407.8L106.0 408.1L106.5 408.4L107.0 408.6L107.5 408.8L108.0 409.0L108.5 409.2L109.0 409.4L109.5 409.6L110.0 409.8L110.5 410.1L111.0 410.4L111.5 410.7L112.0 411.1L112.5 411.5L113.0 411.9L113.5 412.4L114.0 412.8L114.5 413.3L115.0 413.7L115.5 414.2L116.0 414.6L116.5 415.0L117.0 415.4L117.5 415.7L118.0 416.1L118.5 416.4L119.0 416.7L119.5 417.0L120.0 417.2L120.5 417.4L121.0 417.6L121.5 417.7L122.0 417.8L122.5 417.9L123.0 418.0L123.5 418.1L124.0 418.1L124.5 418.1L125.0 418.2L125.5 418.2L126.0 418.1L126.5 418.1L127.0 418.1L127.5 418.1L128.0 418.0L128.5 418.0L129.0 418.0L129.5 417.9L130.0 417.9L130.5 417.8L131.0 417.7L131.5 417.6L132.0 417.4L132.5 417.3L133.0 417.1L133.5 416.8L134.0 416.6L134.5 416.3L135.0 415.9L135.5 415.6L136.0 415.2L136.5 414.9L137.0 414.5L137.5 414.1L138.0 413.7L138.5 413.3L139.0 412.9L139.5 412.4L140.0 412.0L140.5 411.5L141.0 411.1L141.5 410.6L142.0 410.2L142.5 409.8L143.0 409.4L143.5 409.0L144.0 408.7L144.5 408.4L145.0 408.1L145.5 407.8L146.0 407.6L146.5 407.4L147.0 407.2L147.5 407.0L148.0 406.8L148.5 406.6L149.0 406.4L149.5 406.2L150.0 406.0L150.5 405.8L151.0 405.6L151.5 405.4L152.0 405.2L152.5 404.9L153.0 404.7L153.5 404.4L154.0 404.1L154.5 403.8L155.0 403.5L155.5 403.1L156.0 402.8L156.5 402.5L157.0 402.2L157.5 401.9L158.0 401.6L158.5 401.4L159.0 401.1L159.5 400.8L160.0 400.6L160.5 400.3L161.0 400.0L161.5 399.7L162.0 399.4L162.5 399.0L163.0 398.7L163.5 398.3L164.0 398.0L164.5 397.6L165.0 397.2L165.5 396.9L166.0 396.5L166.5 396.1L167.0 395.7L167.5 395.3L168.0 395.0L168.5 394.6L169.0 394.2L169.5 393.8L170.0 393.5L170.5 393.1L171.0 392.8L171.5 392.5L172.0 392.2L172.5 391.9L173.0 391.5L173.5 391.3L174.0 391.0L174.5 390.7L175.0 390.4L175.5 390.1L176.0 389.8L176.5 389.5L177.0 389.1L177.5 388.8L178.0 388.5L178.5 388.2L179.0 387.8L179.5 387.5L180.0 387.2L180.5 386.8L181.0 386.5L181.5 386.2L182.0 385.8L182.5 385.5L183.0 385.1L183.5 384.7L184.0 384.3L184.5 383.9L185.0 383.4L185.5 383.0L186.0 382.5L186.5 382.0L187.0 381.5L187.5 381.0L188.0 380.4L188.5 379.9L189.0 379.4L189.5 378.8L190.0 378.2L190.5 377.6L191.0 377.0L191.5 376.4L192.0 375.7L192.5 375.0L193.0 374.2L193.5 373.5L194.0 372.7L194.5 371.8L195.0 370.9L195.5 369.9L196.0 368.9L196.5 367.9L197.0 366.7L197.5 365.6L198.0 364.4L198.5 363.1L199.0 361.9L199.5 360.6L200.0 359.3L200.5 358.1L201.0 356.9L201.5 355.7L202.0 354.5L202.5 353.4L203.0 352.3L203.5 351.2L204.0 350.1L204.5 349.0L205.0 348.0L205.5 347.0L206.0 346.0L206.5 345.0L207.0 344.0L207.5 343.1L208.0 342.3L208.5 341.4L209.0 340.6L209.5 339.8L210.0 339.0L210.5 338.3L211.0 337.6L211.5 336.8L212.0 336.1L212.5 335.3L213.0 334.6L213.5 333.9L214.0 333.1L214.5 332.4L215.0 331.7L215.5 331.0L216.0 330.2L216.5 329.5L217.0 328.8L217.5 328.1L218.0 327.4L218.5 326.7L219.0 326.0L219.5 325.3L220.0 324.6L220.5 323.9L221.0 323.2L221.5 322.5L222.0 321.8L222.5 321.1L223.0 320.4L223.5 319.7L224.0 319.0L224.5 318.3L225.0 317.7L225.5 317.0L226.0 316.3L226.5 315.6L227.0 314.9L227.5 314.1L228.0 313.3L228.5 312.4L229.0 311.5L229.5 310.4L230.0 309.3L230.5 308.2L231.0 307.0L231.5 305.8L232.0 304.6L232.5 303.4L233.0 302.2L233.5 301.0L234.0 299.9L234.5 298.8L235.0 297.7L235.5 296.7L236.0 295.6L236.5 294.6L237.0 293.5L237.5 292.5L238.0 291.4L238.5 290.4L239.0 289.3L239.5 288.2L240.0 287.1L240.5 286.0L241.0 284.8L241.5 283.6L242.0 282.4L242.5 281.1L243.0 279.7L243.5 278.4L244.0 277.0L244.5 275.6L245.0 274.2L245.5 272.8L246.0 271.4L246.5 270.0L247.0 268.7L247.5 267.4L248.0 266.2L248.5 265.1L249.0 264.0L249.5 263.0L250.0 262.0L250.5 261.2L251.0 260.3L251.5 259.5L252.0 258.8L252.5 258.1L253.0 257.4L253.5 256.7L254.0 256.0L254.5 255.3L255.0 254.7L255.5 254.0L256.0 253.3L256.5 252.6L257.0 252.0L257.5 251.3L258.0 250.7L258.5 250.0L259.0 249.4L259.5 248.8L260.0 248.2L260.5 247.6L261.0 247.1L261.5 246.5L262.0 246.0L262.5 245.5L263.0 244.9L263.5 244.4L264.0 243.9L264.5 243.4L265.0 243.0L265.5 242.5L266.0 242.1L266.5 241.7L267.0 241.4L267.5 241.1L268.0 240.8L268.5 240.6L269.0 240.4L269.5 240.2L270.0 240.1L270.5 240.1L271.0 240.1L271.5 240.2L272.0 240.3L272.5 240.6L273.0 240.9L273.5 241.2L274.0 241.6L274.5 242.0L275.0 242.5L275.5 242.9L276.0 243.4L276.5 243.9L277.0 244.5L277.5 245.1L278.0 245.7L278.5 246.3L279.0 247.0L279.5 247.7L280.0 248.4L280.5 249.2L281.0 249.9L281.5 250.7L282.0 251.5L282.5 252.3L283.0 253.0L283.5 253.8L284.0 254.6L284.5 255.4L285.0 256.2L285.5 257.0L286.0 257.8L286.5 258.6L287.0 259.4L287.5 260.3L288.0 261.2L288.5 262.1L289.0 263.0L289.5 264.0L290.0 265.0L290.5 266.0L291.0 267.1L291.5 268.3L292.0 269.5L292.5 270.8L293.0 272.1L293.5 273.5L294.0 274.9L294.5 276.4L295.0 277.8L295.5 279.3L296.0 280.7L296.5 282.1L297.0 283.5L297.5 284.8L298.0 286.1L298.5 287.4L299.0 288.6L299.5 289.8L300.0 291.0L300.5 292.2L301.0 293.3L301.5 294.4L302.0 295.5L302.5 296.6L303.0 297.6L303.5 298.6L304.0 299.6L304.5 300.5L305.0 301.4L305.5 302.3L306.0 303.2L306.5 304.1L307.0 304.9L307.5 305.7L308.0 306.6L308.5 307.3L309.0 308.1L309.5 308.9L310.0 309.6L310.5 310.3L311.0 311.1L311.5 311.9L312.0 312.7L312.5 313.5L313.0 314.3L313.5 315.2L314.0 316.1L314.5 316.9L315.0 317.8L315.5 318.7L316.0 319.7L316.5 320.7L317.0 321.7L317.5 322.9L318.0 324.1L318.5 325.4L319.0 326.8L319.5 328.2L320.0 329.7L320.5 331.2L321.0 332.6L321.5 334.1L322.0 335.4L322.5 336.8L323.0 338.1L323.5 339.4L324.0 340.7L324.5 342.0L325.0 343.2L325.5 344.3L326.0 345.4L326.5 346.3L327.0 347.2L327.5 347.9L328.0 348.5L328.5 349.1L329.0 349.5L329.5 349.9L330.0 350.2L330.5 350.5L331.0 350.8L331.5 351.1L332.0 351.4L332.5 351.7L333.0 351.9L333.5 352.1L334.0 352.3L334.5 352.4L335.0 352.6L335.5 352.7L336.0 352.9L336.5 353.0L337.0 353.2L337.5 353.4L338.0 353.7L338.5 354.0L339.0 354.3L339.5 354.6L340.0 355.0L340.5 355.3L341.0 355.6L341.5 356.0L342.0 356.3L342.5 356.6L343.0 356.9L343.5 357.2L344.0 357.5L344.5 357.8L345.0 358.0L345.5 358.3L346.0 358.5L346.5 358.8L347.0 359.0L347.5 359.2L348.0 359.4L348.5 359.6L349.0 359.9L349.5 360.1L350.0 360.3L350.5 360.6L351.0 360.8L351.5 360.9L352.0 361.0L352.5 361.0L353.0 360.8L353.5 360.5L354.0 360.1L354.5 359.7L355.0 359.1L355.5 358.5L356.0 357.7L356.5 356.9L357.0 356.0L357.5 355.0L358.0 353.9L358.5 352.7L359.0 351.5L359.5 350.2L360.0 348.9L360.5 347.8L361.0 346.6L361.5 345.6L362.0 344.6L362.5 343.7L363.0 342.9L363.5 342.1L364.0 341.3L364.5 340.6L365.0 339.9L365.5 339.3L366.0 338.8L366.5 338.3L367.0 337.8L367.5 337.5L368.0 337.1L368.5 336.8L369.0 336.6L369.5 336.3L370.0 336.0L370.5 335.8L371.0 335.4L371.5 335.1L372.0 334.8L372.5 334.4L373.0 334.1L373.5 333.7L374.0 333.4L374.5 333.1L375.0 332.7L375.5 332.4L376.0 332.1L376.5 331.9L377.0 331.6L377.5 331.4L378.0 331.2L378.5 331.0L379.0 330.9L379.5 330.7L380.0 330.6L380.5 330.5L381.0 330.4L381.5 330.3L382.0 330.2L382.5 330.1L383.0 330.0L383.5 330.0L384.0 329.9L384.5 329.8L385.0 329.7L385.5 329.7L386.0 329.7L386.5 329.7L387.0 329.7L387.5 329.9L388.0 330.1L388.5 330.3L389.0 330.6L389.5 331.0L390.0 331.4L390.5 331.9L391.0 332.5L391.5 333.3L392.0 334.1L392.5 335.1L393.0 336.1L393.5 337.2L394.0 338.4L394.5 339.6L395.0 340.7L395.5 341.9L396.0 343.0L396.5 344.2L397.0 345.3L397.5 346.4L398.0 347.6L398.5 348.7L399.0 349.9L399.5 351.1L400.0 352.2L400.5 353.3L401.0 354.5L401.5 355.6L402.0 356.7L402.5 357.8L403.0 358.9L403.5 359.9L404.0 361.0L404.5 362.0L405.0 363.1L405.5 364.1L406.0 365.1L406.5 366.1L407.0 367.1L407.5 368.1L408.0 369.1L408.5 370.1L409.0 371.0L409.5 371.9L410.0 372.9L410.5 373.8L411.0 374.7L411.5 375.6L412.0 376.4L412.5 377.3L413.0 378.2L413.5 379.0L414.0 379.8L414.5 380.7L415.0 381.5L415.5 382.3L416.0 383.1L416.5 383.8L417.0 384.6L417.5 385.4L418.0 386.1L418.5 386.8L419.0 387.5L419.5 388.2L420.0 388.9L420.5 389.6L421.0 390.2L421.5 390.9L422.0 391.5L422.5 392.1L423.0 392.6L423.5 393.2L424.0 393.8L424.5 394.3L425.0 394.8L425.5 395.3L426.0 395.8L426.5 396.3L427.0 396.8L427.5 397.2L428.0 397.6L428.5 398.0L429.0 398.4L429.5 398.8L430.0 399.1L430.5 399.5L431.0 399.8L431.5 400.2L432.0 400.6L432.5 400.9L433.0 401.3L433.5 401.7L434.0 402.1L434.5 402.5L435.0 402.9L435.5 403.3L436.0 403.8L436.5 404.1L437.0 404.5L437.5 404.8L438.0 405.1L438.5 405.4L439.0 405.6L439.5 405.9L440.0 406.0L440.5 406.2L441.0 406.4L441.5 406.5L442.0 406.7L442.5 406.9L443.0 407.1L443.5 407.3L444.0 407.6L444.5 407.8L445.0 408.1L445.5 408.4L446.0 408.7L446.5 409.1L447.0 409.4L447.5 409.8L448.0 410.2L448.5 410.7L449.0 411.3L449.5 411.9L450.0 412.6L450.5 413.3L451.0 414.1L451.5 414.9L452.0 415.8L452.5 416.6L453.0 417.4L453.5 418.2L454.0 418.9L454.5 419.7L455.0 420.4L455.5 421.2L456.0 421.9L456.5 422.6L457.0 423.3L457.5 424.0L458.0 424.7L458.5 425.3L459.0 425.9L459.5 426.5L460.0 427.1L460.5 427.5L461.0 428.0L461.5 428.4L462.0 428.8L462.5 429.1L463.0 429.5L463.5 429.8L464.0 430.0L464.5 430.3L465.0 430.6L465.5 430.8L466.0 431.0L466.5 431.2L467.0 431.5L467.5 431.7L468.0 431.9L468.5 432.0L469.0 432.2L469.5 432.3L470.0 432.5L470.5 432.6L471.0 432.7L471.5 432.9L472.0 433.0L472.5 433.1L473.0 433.2L473.5 433.4L474.0 433.5L474.5 433.7L475.0 433.8L475.5 434.0L476.0 434.1L476.5 434.2L477.0 434.2L477.5 434.2L478.0 434.2L478.5 434.1L479.0 434.0L479.5 433.8L480.0 433.6L480.5 433.3L481.0 433.0L481.5 432.6L482.0 432.2L482.5 431.7L483.0 431.2L483.5 430.6L484.0 430.0L484.5 429.3L485.0 428.5L485.5 427.7L486.0 426.8L486.5 425.9L487.0 424.9L487.5 423.8L488.0 422.6L488.5 421.4L489.0 420.1L489.5 418.7L490.0 417.4L490.5 416.1L491.0 414.8L491.5 413.6L492.0 412.5L492.5 411.4L493.0 410.4L493.5 409.5L494.0 408.6L494.5 407.7L495.0 406.8L495.5 405.9L496.0 405.1L496.5 404.2L497.0 403.3L497.5 402.3L498.0 401.4L498.5 400.4L499.0 399.4L499.5 398.4L500.0 397.3L500.5 396.3L501.0 395.3L501.5 394.2L502.0 393.1L502.5 392.1L503.0 391.0L503.5 389.9L504.0 388.8L504.5 387.7L505.0 386.5L505.5 385.4L506.0 384.2L506.5 383.0L507.0 381.9L507.5 380.7L508.0 379.5L508.5 378.3L509.0 377.2L509.5 376.0L510.0 374.8L510.5 373.6L511.0 372.4L511.5 371.3L512.0 370.1L512.5 369.0L513.0 368.0L513.5 367.0L514.0 366.1L514.5 365.2L515.0 364.5L515.5 363.7L516.0 363.1L516.5 362.4L517.0 361.8L517.5 361.2L518.0 360.6L518.5 360.1L519.0 359.6L519.5 359.1L520.0 358.6L520.5 358.2L521.0 357.8L521.5 357.4L522.0 357.0L522.5 356.6L523.0 356.2L523.5 355.8L524.0 355.4L524.5 355.0L525.0 354.6L525.5 354.1L526.0 353.7L526.5 353.3L527.0 352.9L527.5 352.4L528.0 352.0L528.5 351.6L529.0 351.1L529.5 350.7L530.0 350.2L530.5 349.8L531.0 349.3L531.5 348.8L532.0 348.3L532.5 347.7L533.0 347.2L533.5 346.6L534.0 346.1L534.5 345.5L535.0 345.0L535.5 344.5L536.0 344.1L536.5 343.6L537.0 343.2L537.5 342.9L538.0 342.5L538.5 342.2L539.0 341.9L539.5 341.7L540.0 341.4L540.5 341.2L541.0 341.1L541.5 341.0L542.0 341.0L542.5 341.0L543.0 341.1L543.5 341.2L544.0 341.4L544.5 341.7L545.0 341.9L545.5 342.2L546.0 342.4L546.5 342.7L547.0 342.9L547.5 343.0L548.0 343.1L548.5 343.2L549.0 343.2L549.5 343.2L550.0 343.2L550.5 343.1L551.0 343.0L551.5 342.9L552.0 342.8L552.5 342.7L553.0 342.6L553.5 342.5L554.0 342.4L554.5 342.4L555.0 342.4L555.5 342.4L556.0 342.5L556.5 342.6L557.0 342.7L557.5 342.8L558.0 343.0L558.5 343.2L559.0 343.3L559.5 343.5L560.0 343.7L560.5 343.9L561.0 344.0L561.5 344.2L562.0 344.3L562.5 344.4L563.0 344.5L563.5 344.6L564.0 344.6L564.5 344.7L565.0 344.8L565.5 344.8L566.0 344.9L566.5 344.9L567.0 344.9L567.5 344.9L568.0 344.8L568.5 344.8L569.0 344.8L569.5 344.7L570.0 344.7L570.5 344.7L571.0 344.6L571.5 344.4L572.0 344.2L572.5 343.8L573.0 343.4L573.5 342.9L574.0 342.4L574.5 341.7L575.0 340.9L575.5 339.9L576.0 338.8L576.5 337.3L577.0 335.7L577.5 333.8L578.0 331.8L578.5 329.8L579.0 327.7L579.5 325.7L580.0 323.6L580.5 321.6L581.0 319.7L581.5 317.7L582.0 315.6L582.5 313.6L583.0 311.5L583.5 309.3L584.0 307.1L584.5 304.9L585.0 302.5L585.5 300.2L586.0 297.8L586.5 295.3L587.0 292.9L587.5 290.4L588.0 288.0L588.5 285.5L589.0 283.1L589.5 280.6L590.0 278.1L590.5 275.6L591.0 273.0L591.5 270.5L592.0 268.0L592.5 265.6L593.0 263.1L593.5 260.6L594.0 258.2L594.5 255.9L595.0 253.6L595.5 251.4L596.0 249.2L596.5 247.0L597.0 244.9L597.5 242.7L598.0 240.5L598.5 238.2L599.0 235.9L599.5 233.4L600.0 230.9L600.5 228.2L601.0 225.4L601.5 222.6L602.0 219.8L602.5 217.1L603.0 214.4L603.5 211.9L604.0 209.4L604.5 207.0L605.0 204.7L605.5 202.4L606.0 200.2L606.5 198.0L607.0 195.8L607.5 193.6L608.0 191.4L608.5 189.3L609.0 187.2L609.5 185.3L610.0 183.5L610.5 182.0L611.0 180.7L611.5 179.6L612.0 178.7L612.5 177.9L613.0 177.3L613.5 176.7L614.0 176.1L614.5 175.7L615.0 175.3L615.5 175.0L616.0 174.8L616.5 174.6L617.0 174.4L617.5 174.2L618.0 174.1L618.5 173.9L619.0 173.7L619.5 173.5L620.0 173.4L620.5 173.2L621.0 173.1L621.5 173.0L622.0 172.9L622.5 172.8L623.0 172.7L623.5 172.7L624.0 172.6L624.5 172.6L625.0 172.6L625.5 172.6L626.0 172.6L626.5 172.6L627.0 172.6L627.5 172.7L628.0 172.8L628.5 172.9L629.0 173.1L629.5 173.3L630.0 173.5L630.5 173.8L631.0 174.2L631.5 174.6L632.0 175.1L632.5 175.7L633.0 176.2L633.5 176.8L634.0 177.5L634.5 178.2L635.0 178.9L635.5 179.7L636.0 180.5L636.5 181.3L637.0 182.2L637.5 183.1L638.0 184.1L638.5 185.1L639.0 186.0L639.5 186.9L640.0 187.8L640.5 188.7L641.0 189.5L641.5 190.3L642.0 191.1L642.5 191.9L643.0 192.6L643.5 193.4L644.0 194.1L644.5 194.7L645.0 195.4L645.5 195.9L646.0 196.5L646.5 196.9L647.0 197.4L647.5 197.8L648.0 198.3L648.5 198.8L649.0 199.4L649.5 200.0L650.0 200.7L650.5 201.4L651.0 202.1L651.5 202.9L652.0 203.7L652.5 204.6L653.0 205.6L653.5 206.8L654.0 208.2L654.5 209.8L655.0 211.6L655.5 213.5L656.0 215.5L656.5 217.5L657.0 219.6L657.5 221.5L658.0 223.3L658.5 225.1L659.0 226.8L659.5 228.4L660.0 230.1L660.5 231.8L661.0 233.6L661.5 235.4L662.0 237.3L662.5 239.2L663.0 241.0L663.5 242.9L664.0 244.6L664.5 246.3L665.0 248.0L665.5 249.7L666.0 251.3L666.5 252.9L667.0 254.6L667.5 256.2L668.0 258.0L668.5 259.7L669.0 261.5L669.5 263.3L670.0 265.1L670.5 266.8L671.0 268.3L671.5 269.7L672.0 271.0L672.5 272.1L673.0 273.1L673.5 274.1L674.0 275.0L674.5 275.9L675.0 276.7L675.5 277.7L676.0 278.6L676.5 279.6L677.0 280.7L677.5 281.7L678.0 282.7L678.5 283.8L679.0 284.8L679.5 285.7L680.0 286.7L680.5 287.6L681.0 288.4L681.5 289.2L682.0 290.0L682.5 290.7L683.0 291.5L683.5 292.2L684.0 292.8L684.5 293.5L685.0 294.1L685.5 294.7L686.0 295.3L686.5 295.9L687.0 296.4L687.5 296.9L688.0 297.4L688.5 297.9L689.0 298.3L689.5 298.7L690.0 299.0L690.5 299.3L691.0 299.6L691.5 299.8L692.0 300.0L692.5 300.2L693.0 300.3L693.5 300.5L694.0 300.6L694.5 300.8L695.0 301.0L695.5 301.1L696.0 301.3L696.5 301.6L697.0 301.8L697.5 302.0L698.0 302.3L698.5 302.6L699.0 302.8L699.5 303.1L700.0 303.3L700.5 303.6L701.0 303.8L701.5 304.0L702.0 304.1L702.5 304.3L703.0 304.4L703.5 304.5L704.0 304.6L704.5 304.7L705.0 304.7L705.5 304.8L706.0 304.9L706.5 305.0L707.0 305.2L707.5 305.4L708.0 305.6L708.5 305.9L709.0 306.2L709.5 306.6L710.0 307.0L710.5 307.4L711.0 307.9L711.5 308.4L712.0 308.9L712.5 309.4L713.0 310.0L713.5 310.5L714.0 311.0L714.5 311.5L715.0 312.0L715.5 312.5L716.0 312.9L716.5 313.4L717.0 313.9L717.5 314.4L718.0 314.9L718.5 315.4L719.0 315.9L719.5 316.3L720.0 316.8L720.5 317.3L721.0 317.8L721.5 318.3L722.0 318.8L722.5 319.3L723.0 319.8L723.5 320.4L724.0 320.9L724.5 321.4L725.0 321.9L725.5 322.4L726.0 322.9L726.5 323.4L727.0 323.8L727.5 324.3L728.0 324.7L728.5 325.1L729.0 325.6L729.5 325.9L730.0 326.3L730.5 326.7L731.0 327.1L731.5 327.4L732.0 327.8L732.5 328.1L733.0 328.4L733.5 328.8L734.0 329.2L734.5 329.7L735.0 330.2L735.5 330.8L736.0 331.4L736.5 331.9L737.0 332.2L737.5 332.2L738.0 331.9L738.5 331.2L739.0 330.1L739.5 328.6L740.0 327.0L740.5 325.4L741.0 324.0L741.5 322.8L742.0 321.9L742.5 321.2L743.0 320.6L743.5 320.2L744.0 319.7L744.5 319.3L745.0 318.9L745.5 318.5L746.0 318.1L746.5 317.7L747.0 317.3L747.5 316.9L748.0 316.6L748.5 316.2L749.0 315.8L749.5 315.3L750.0 314.9L750.5 314.4L751.0 313.9L751.5 313.4L752.0 312.8L752.5 312.2L753.0 311.7L753.5 311.1L754.0 310.5L754.5 309.9L755.0 309.2L755.5 308.6L756.0 308.0L756.5 307.3L757.0 306.7L757.5 306.0L758.0 305.3L758.5 304.6L759.0 303.8L759.5 303.1L760.0 302.4L760.5 301.7L761.0 301.0L761.5 300.3L762.0 299.7L762.5 299.0L763.0 298.4L763.5 297.9L764.0 297.3L764.5 296.8L765.0 296.3L765.5 295.7L766.0 295.2L766.5 294.6L767.0 294.0L767.5 293.3L768.0 292.7L768.5 292.0L769.0 291.3L769.5 290.6L770.0 289.8L770.5 289.0L771.0 288.1L771.5 287.2L772.0 286.3L772.5 285.4L773.0 284.5L773.5 283.7L774.0 282.9L774.5 282.1L775.0 281.4L775.5 280.8L776.0 280.3L776.5 279.9L777.0 279.6L777.5 279.3L778.0 279.0L778.5 278.7L779.0 278.5L779.5 278.3L780.0 278.0L780.5 277.8L781.0 277.5L781.5 277.2L782.0 276.9L782.5 276.6L783.0 276.3L783.5 276.0L784.0 275.7L784.5 275.4L785.0 275.1L785.5 274.9L786.0 274.8L786.5 274.6L787.0 274.5L787.5 274.3L788.0 274.2L788.5 274.1" stroke="#f23645" stroke-width="1.5" fill="none" stroke-linejoin="round"/>
<path d="M9.16 305.3V320.7M12.88 314.4V328.1M16.60 311.9V322.8M20.32 321.9V333.8M24.04 329.0V338.0M27.76 335.4V345.1M31.48 333.1V345.3M40.77 343.0V359.9M53.79 352.6V383.9M61.23 394.6V402.9M63.09 394.1V400.1M64.95 386.3V395.7M72.39 392.0V403.6M74.25 377.5V394.2M76.11 358.9V379.8M79.83 367.9V375.4M83.55 381.4V386.8M94.71 430.3V456.7M98.43 425.4V452.8M102.14 417.2V441.1M104.00 413.7V421.5M105.86 412.9V418.6M107.72 403.6V413.8M109.58 396.4V409.4M111.44 397.2V409.8M115.16 393.9V400.4M118.88 400.6V419.2M120.74 401.0V406.2M122.60 395.7V406.3M130.04 439.0V474.0M131.90 418.7V442.0M133.76 415.5V420.7M135.62 395.4V422.9M139.34 385.5V402.4M143.06 374.9V396.7M146.78 362.8V385.3M150.50 377.8V385.0M152.36 379.2V384.8M156.08 375.4V382.5M165.37 408.1V421.0M167.23 400.3V408.6M169.09 397.3V403.7M170.95 384.5V400.9M172.81 380.4V398.2M174.67 372.2V387.1M176.53 365.6V387.6M178.39 355.2V370.7M180.25 355.5V367.7M182.11 352.5V363.8M183.97 346.9V360.5M185.83 346.9V365.2M187.69 325.1V372.3M191.41 318.2V327.9M195.13 335.4V342.4M196.99 322.8V337.5M198.85 319.8V326.4M206.29 311.1V330.7M210.01 325.2V337.0M213.73 316.3V331.1M215.59 303.3V317.7M219.31 285.9V311.0M224.88 291.3V308.9M226.74 288.1V295.7M228.60 279.9V291.0M230.46 263.1V288.0M232.32 242.7V279.9M234.18 223.4V259.2M237.90 225.1V234.2M239.76 225.1V230.2M243.48 223.9V235.1M247.20 226.7V240.5M254.64 244.0V254.7M260.22 243.4V254.3M263.94 248.2V258.1M265.80 243.4V255.9M267.66 229.1V248.8M278.82 266.6V279.7M289.97 306.2V319.0M291.83 317.6V327.1M297.41 344.2V352.3M299.27 334.8V363.8M302.99 324.4V348.9M304.85 305.4V325.6M312.29 321.5V333.2M314.15 317.4V325.9M323.45 394.8V415.4M327.17 386.2V403.7M329.03 366.8V388.1M330.89 346.7V369.6M338.33 353.6V367.7M340.19 336.4V358.6M343.91 339.4V348.9M345.77 336.8V341.1M347.63 337.0V341.8M353.20 339.2V358.3M355.06 326.8V345.0M356.92 321.6V334.1M358.78 316.8V328.5M362.50 301.1V323.9M369.94 324.4V345.0M373.66 328.7V341.1M375.52 320.7V333.8M381.10 323.8V339.5M382.96 319.1V331.5M395.98 398.0V415.4M397.84 381.8V398.9M403.42 395.9V411.4M407.14 399.7V417.8M409.00 388.8V405.7M412.71 392.1V426.4M414.57 379.6V396.8M416.43 374.7V382.6M429.45 401.3V435.8M435.03 421.7V438.5M438.75 423.2V441.3M440.61 413.1V424.5M448.05 422.3V431.4M453.63 437.9V469.7M457.35 425.0V455.4M462.93 431.4V442.3M466.65 426.7V451.7M470.37 434.4V440.8M472.22 429.7V437.2M475.94 427.9V457.2M477.80 407.9V430.7M481.52 398.6V418.0M483.38 393.8V403.4M485.24 369.7V398.9M487.10 353.4V374.3M494.54 353.4V364.4M500.12 349.5V374.2M501.98 357.4V376.1M503.84 352.6V363.9M507.56 342.4V364.5M509.42 343.4V350.7M511.28 338.5V346.4M518.72 356.9V366.7M520.58 333.8V361.7M522.44 332.3V345.3M524.30 334.3V340.8M528.02 320.5V342.1M529.88 319.0V327.7M531.74 324.2V327.2M535.45 321.3V333.1M537.31 319.3V326.8M542.89 333.5V337.1M546.61 360.9V368.5M548.47 344.8V374.5M550.33 351.1V365.0M552.19 346.0V354.2M557.77 351.0V362.8M561.49 355.7V368.3M563.35 345.9V359.5M565.21 333.7V350.0M568.93 297.0V355.8M570.79 305.7V334.4M574.51 271.1V314.3M576.37 240.7V292.5M578.23 223.0V240.7M580.09 199.2V227.4M581.95 178.8V206.5M583.81 180.4V195.8M587.53 186.9V192.5M589.39 174.7V224.2M591.25 171.0V178.1M593.11 171.7V176.5M594.97 153.8V177.1M596.82 166.3V178.8M600.54 150.3V169.7M602.40 142.8V155.9M604.26 150.7V182.7M606.12 149.1V173.9M611.70 174.5V196.1M613.56 172.6V190.9M615.42 179.3V191.4M621.00 163.2V182.0M622.86 162.4V174.7M628.44 179.9V184.4M639.60 224.0V245.4M641.46 219.7V226.9M643.32 214.8V225.8M645.18 216.8V219.8M647.04 213.3V219.6M661.91 304.3V322.1M663.77 296.2V309.8M669.35 312.7V348.7M673.07 315.8V327.7M674.93 304.8V327.5M676.79 270.6V310.1M680.51 269.5V294.7M684.23 281.6V287.9M687.95 286.9V297.0M689.81 282.9V290.8M697.25 286.8V313.3M700.97 336.9V357.3M702.83 314.3V337.7M708.41 334.1V346.4M710.27 319.6V335.6M713.99 327.1V341.6M715.85 317.4V329.5M717.71 321.3V324.6M719.57 306.4V325.9M721.42 307.2V314.8M725.14 334.0V340.3M727.00 326.7V336.4M728.86 311.9V327.0M734.44 317.1V330.6M740.02 292.2V339.3M741.88 266.7V305.8M749.32 296.4V311.4M751.18 286.0V300.7M753.04 281.8V291.1M754.90 273.7V287.4M758.62 268.2V279.7M762.34 270.7V276.4M767.92 267.5V284.4M769.78 263.5V283.3M771.64 251.7V276.7M775.36 257.0V272.9M779.08 262.9V269.8M780.94 255.7V265.9M786.51 277.6V308.9" stroke="#089981" stroke-width="0.75" fill="none"/>
<path d="M7.30 306.6V318.5M11.02 296.6V337.0M14.74 305.3V322.5M18.46 315.0V331.0M22.18 322.2V332.4M25.90 326.9V346.9M29.62 335.4V352.6M33.34 338.5V351.4M35.20 341.3V349.8M37.06 342.5V351.8M38.91 347.4V362.0M42.63 337.0V350.1M44.49 345.3V352.2M46.35 348.6V364.0M48.21 362.0V376.6M50.07 372.1V375.8M51.93 372.9V391.8M55.65 353.2V395.0M57.51 394.1V409.8M59.37 391.0V403.4M66.81 381.6V392.4M68.67 387.7V401.9M70.53 391.7V409.0M77.97 358.1V375.8M81.69 362.0V392.5M85.41 377.7V405.7M87.27 401.8V416.9M89.13 410.7V433.3M90.99 433.2V443.8M92.85 439.3V457.5M96.57 404.3V437.7M100.28 420.7V453.6M113.30 399.3V411.4M117.02 389.4V414.0M124.46 398.5V430.1M126.32 422.6V453.6M128.18 445.6V451.4M137.48 396.6V401.9M141.20 388.2V396.0M144.92 374.8V385.6M148.64 375.6V385.5M154.22 380.0V382.8M157.94 379.9V385.5M159.80 373.1V398.2M161.66 385.4V403.6M163.51 400.6V420.8M189.55 315.0V330.0M193.27 320.7V342.1M200.71 318.2V322.1M202.57 318.6V330.7M204.43 315.8V335.4M208.15 311.0V338.5M211.87 323.4V329.1M217.45 306.2V318.2M221.17 272.1V292.0M223.03 288.9V310.5M236.04 225.3V234.6M241.62 221.3V236.1M245.34 225.1V229.9M249.06 230.5V240.1M250.92 224.4V251.0M252.78 243.5V251.4M256.50 248.3V260.4M258.36 249.4V258.8M262.08 240.0V251.8M269.52 232.2V243.3M271.38 239.2V248.2M273.24 243.3V252.6M275.10 247.3V263.0M276.96 260.4V280.4M280.68 265.8V277.8M282.54 275.0V284.0M284.40 267.9V290.9M286.25 248.7V305.4M288.11 303.3V334.0M293.69 318.7V353.9M295.55 343.7V355.1M301.13 337.5V350.1M306.71 298.8V315.3M308.57 308.5V327.0M310.43 310.9V334.8M316.01 327.1V339.3M317.87 330.2V362.2M319.73 359.7V394.0M321.59 393.0V416.2M325.31 382.5V402.3M332.75 345.8V358.4M334.61 351.9V356.3M336.47 354.7V362.7M342.05 339.3V344.3M349.48 334.6V344.3M351.34 341.7V349.7M360.64 318.8V336.4M364.36 304.3V324.4M366.22 308.2V328.6M368.08 309.0V332.3M371.80 326.3V333.5M377.38 330.1V333.0M379.24 328.7V333.6M384.82 315.2V330.1M386.68 329.7V355.1M388.54 348.7V376.6M390.40 372.5V381.9M392.26 373.1V391.8M394.12 389.0V408.4M399.70 389.7V403.5M401.56 399.4V417.0M405.28 402.0V424.8M410.85 391.9V425.6M418.29 376.3V383.3M420.15 372.4V385.9M422.01 382.7V388.7M423.87 384.1V394.9M425.73 394.7V406.7M427.59 401.3V422.5M431.31 413.8V423.2M433.17 419.7V438.9M436.89 422.8V432.7M442.47 412.6V422.0M444.33 417.4V428.1M446.19 420.6V432.9M449.91 422.6V428.4M451.77 426.7V452.6M455.49 411.0V461.9M459.21 420.4V433.8M461.07 432.2V452.5M464.79 417.3V447.8M468.51 434.2V440.7M474.08 422.7V452.5M479.66 410.6V423.5M488.96 353.4V368.3M490.82 357.4V366.7M492.68 359.8V366.0M496.40 355.4V359.4M498.26 348.7V376.1M505.70 354.3V365.7M513.14 341.7V346.4M515.00 343.8V354.8M516.86 346.8V368.3M526.16 335.6V340.1M533.60 319.0V333.1M539.17 316.6V328.8M541.03 324.6V337.5M544.75 334.4V383.9M554.05 346.9V353.2M555.91 349.8V362.0M559.63 348.9V355.8M567.07 334.9V344.6M572.65 306.7V316.1M585.67 184.3V199.2M598.68 160.8V168.6M607.98 154.6V166.9M609.84 163.6V194.3M617.28 180.0V189.8M619.14 176.7V192.3M624.72 167.1V182.1M626.58 178.7V185.3M630.30 176.5V186.1M632.16 184.7V199.3M634.02 196.0V228.9M635.88 206.2V218.0M637.74 214.9V232.1M648.90 212.5V222.1M650.76 218.4V240.7M652.62 237.4V256.6M654.48 254.6V283.8M656.34 279.6V291.3M658.19 281.4V307.3M660.05 302.1V317.4M665.63 298.6V315.9M667.49 311.8V341.6M671.21 309.5V327.4M678.65 261.8V286.2M682.37 271.7V286.2M686.09 283.0V292.1M691.67 283.7V293.5M693.53 290.7V300.9M695.39 286.1V310.5M699.11 307.7V355.0M704.69 308.0V338.3M706.55 336.9V343.4M712.13 316.6V344.8M723.28 309.7V345.6M730.72 314.3V321.2M732.58 318.9V331.5M736.30 315.8V327.1M738.16 321.7V333.8M743.74 275.3V288.6M745.60 286.8V296.8M747.46 288.8V315.8M756.76 271.8V277.7M760.48 272.9V277.0M764.20 266.7V278.0M766.06 274.9V291.7M773.50 244.0V264.4M777.22 254.4V271.0M782.79 260.9V277.7M784.65 262.8V305.1M788.37 278.5V287.0" stroke="#f23645" stroke-width="0.75" fill="none"/>
<path d="M9.16 310.0V311.3M12.88 316.9V325.1M16.60 316.9V322.6M20.32 323.7V329.1M24.04 329.1V337.0M27.76 335.4V344.8M31.48 343.2V344.8M40.77 344.0V358.1M53.79 355.0V377.7M61.23 395.7V402.7M63.09 394.1V399.6M64.95 386.3V394.9M72.39 393.3V403.5M74.25 377.7V394.1M76.11 368.3V377.7M79.83 368.3V375.3M83.55 382.4V385.5M94.71 430.9V449.7M98.43 428.6V435.6M102.14 417.6V436.4M104.00 415.2V418.4M105.86 412.9V416.0M107.72 405.1V413.7M109.58 398.8V409.0M111.44 400.4V405.1M115.16 394.1V400.4M118.88 401.9V414.5M120.74 401.2V405.9M122.60 400.4V405.9M130.04 439.5V448.9M131.90 419.2V439.5M133.76 417.6V420.7M135.62 397.2V420.7M139.34 391.0V401.2M143.06 376.1V396.5M146.78 380.0V383.9M150.50 380.1V384.8M152.36 380.1V383.2M156.08 379.3V382.4M165.37 408.3V420.0M167.23 400.5V408.3M169.09 398.9V403.6M170.95 385.6V400.5M172.81 383.2V397.3M174.67 373.8V386.4M176.53 366.0V384.8M178.39 358.2V370.7M180.25 355.8V367.6M182.11 354.7V363.7M183.97 353.2V354.1M185.83 353.5V354.4M187.69 325.3V353.5M191.41 322.1V327.6M195.13 335.4V340.9M196.99 322.9V337.0M198.85 320.5V324.4M206.29 312.7V330.7M210.01 325.2V333.8M213.73 316.6V329.1M215.59 307.2V317.4M219.31 288.6V308.9M224.88 291.7V304.2M226.74 290.1V293.3M228.60 280.0V290.9M230.46 265.1V285.5M232.32 244.0V279.2M234.18 226.0V258.8M237.90 225.2V232.2M239.76 225.2V227.5M243.48 224.4V233.8M247.20 226.7V240.0M254.64 244.0V252.6M260.22 244.0V253.4M263.94 248.7V255.7M265.80 244.0V255.7M267.66 235.4V247.9M278.82 268.2V279.2M289.97 306.6V317.6M291.83 319.1V327.0M297.41 344.2V352.0M299.27 339.5V350.5M302.99 325.4V347.3M304.85 308.2V325.4M312.29 322.3V330.1M314.15 319.1V323.8M323.45 395.1V404.5M327.17 387.2V399.8M329.03 368.5V388.0M330.89 348.1V369.2M338.33 353.6V361.4M340.19 341.1V356.7M343.91 339.5V342.6M345.77 338.7V341.1M347.63 337.1V340.3M353.20 341.1V348.1M355.06 328.5V344.2M356.92 323.1V331.7M358.78 319.9V328.5M362.50 312.9V323.1M369.94 327.0V334.8M373.66 330.1V334.8M375.52 330.1V332.4M381.10 325.4V333.2M382.96 322.3V328.5M395.98 398.2V402.9M397.84 390.4V398.2M403.42 402.1V409.2M407.14 401.3V417.8M409.00 399.8V402.9M412.71 393.5V413.1M414.57 381.0V395.1M416.43 377.1V382.5M429.45 413.9V420.1M435.03 423.2V435.8M438.75 423.2V432.6M440.61 415.7V423.5M448.05 423.5V431.4M453.63 440.8V451.7M457.35 425.1V454.8M462.93 431.4V440.0M466.65 435.3V447.8M470.37 434.5V440.8M472.22 429.8V435.3M475.94 428.2V446.2M477.80 411.0V430.6M481.52 399.3V415.7M483.38 394.6V403.2M485.24 369.8V396.1M487.10 357.3V371.4M494.54 355.8V363.6M500.12 363.6V373.0M501.98 360.5V365.1M503.84 355.8V363.6M507.56 345.6V362.8M509.42 344.0V348.7M511.28 343.2V346.4M518.72 358.9V366.7M520.58 344.0V360.5M522.44 337.0V344.8M524.30 336.2V338.2M528.02 326.0V340.1M529.88 325.2V327.6M531.74 325.2V326.2M535.45 321.3V327.6M537.31 321.3V324.4M542.89 334.6V336.5M546.61 362.0V366.7M548.47 362.0V365.1M550.33 352.6V363.6M552.19 347.1V353.4M557.77 351.1V359.7M561.49 355.8V362.0M563.35 347.1V357.3M565.21 335.4V347.9M568.93 330.7V343.2M570.79 310.4V331.5M574.51 272.0V313.5M576.37 240.7V292.3M578.23 223.4V240.7M580.09 200.8V227.4M581.95 188.2V205.5M583.81 186.7V192.9M587.53 189.0V192.1M589.39 177.3V191.4M591.25 174.1V178.1M593.11 173.4V175.7M594.97 172.6V174.1M596.82 166.3V172.6M600.54 150.7V167.1M602.40 148.3V155.4M604.26 162.4V171.0M606.12 162.4V171.0M611.70 177.3V194.5M613.56 177.3V189.8M615.42 182.0V185.1M621.00 170.2V182.0M622.86 170.2V174.1M628.44 180.4V183.5M639.60 224.2V228.9M641.46 220.3V225.0M643.32 218.0V221.1M645.18 217.2V219.5M647.04 214.8V218.0M661.91 306.4V311.1M663.77 304.1V308.0M669.35 317.4V338.5M673.07 315.8V325.2M674.93 308.0V318.9M676.79 271.2V309.5M680.51 272.0V285.3M684.23 283.7V287.6M687.95 290.0V293.9M689.81 285.3V290.8M697.25 300.1V310.3M700.97 337.0V349.5M702.83 318.2V337.0M708.41 335.4V344.0M710.27 319.7V335.4M713.99 329.1V340.1M715.85 323.7V329.1M717.71 321.3V324.4M719.57 311.9V323.7M721.42 311.1V313.5M725.14 335.4V340.1M727.00 326.8V336.2M728.86 317.4V326.8M734.44 319.7V328.4M740.02 292.3V332.3M741.88 278.4V302.7M749.32 299.5V310.5M751.18 287.0V300.3M753.04 283.9V288.6M754.90 273.7V287.0M758.62 272.9V279.2M762.34 271.4V276.1M767.92 274.5V282.3M769.78 263.5V282.3M771.64 251.8V274.5M775.36 257.3V263.5M779.08 263.5V268.2M780.94 261.2V264.3M786.51 281.5V303.5" stroke="#089981" stroke-width="1.8" fill="none"/>
<path d="M7.30 313.5V314.1M11.02 311.0V325.7M14.74 316.9V321.9M18.46 316.0V328.8M22.18 325.2V331.0M25.90 329.1V344.8M29.62 343.2V345.6M33.34 344.0V349.5M35.20 344.0V347.9M37.06 343.2V349.5M38.91 347.9V358.9M42.63 344.0V347.9M44.49 346.4V351.8M46.35 351.1V363.6M48.21 362.8V375.3M50.07 373.0V375.3M51.93 373.0V383.9M55.65 355.0V394.9M57.51 394.1V400.4M59.37 394.9V402.7M66.81 386.3V389.4M68.67 387.8V392.5M70.53 392.5V403.5M77.97 368.3V375.3M81.69 369.1V383.9M85.41 381.6V403.5M87.27 403.5V416.8M89.13 411.3V433.2M90.99 433.2V442.6M92.85 441.9V449.7M96.57 430.9V435.6M100.28 428.6V436.4M113.30 399.6V409.0M117.02 394.1V413.7M124.46 401.2V423.9M126.32 423.9V447.3M128.18 445.8V448.9M137.48 397.2V401.9M141.20 391.0V395.7M144.92 376.1V385.5M148.64 378.5V384.8M154.22 380.1V382.4M157.94 381.7V385.1M159.80 384.8V395.8M161.66 385.6V403.6M163.51 403.6V419.2M189.55 326.0V328.4M193.27 322.1V340.9M200.71 319.7V322.1M202.57 321.3V327.6M204.43 320.5V330.7M208.15 313.5V333.8M211.87 326.0V329.1M217.45 306.4V308.8M221.17 288.6V291.7M223.03 289.4V304.2M236.04 226.7V231.4M241.62 225.2V234.6M245.34 225.2V229.1M249.06 230.7V240.0M250.92 233.8V249.4M252.78 244.0V250.2M256.50 248.7V254.1M258.36 249.4V253.4M262.08 244.7V250.2M269.52 234.6V242.4M271.38 239.3V247.9M273.24 244.0V251.0M275.10 250.2V262.0M276.96 260.4V279.2M280.68 267.9V277.7M282.54 276.1V283.9M284.40 277.7V288.6M286.25 285.5V304.3M288.11 303.5V317.6M293.69 319.1V352.0M295.55 344.2V353.6M301.13 339.5V347.3M306.71 308.2V315.2M308.57 309.0V315.2M310.43 311.3V330.1M316.01 328.5V336.4M317.87 333.2V361.4M319.73 359.8V393.5M321.59 393.5V404.5M325.31 396.6V399.8M332.75 348.9V356.7M334.61 353.6V355.9M336.47 357.5V360.2M342.05 341.1V344.2M349.48 337.1V344.2M351.34 341.8V348.1M360.64 319.9V323.1M364.36 312.1V323.8M366.22 324.6V328.5M368.08 325.4V331.7M371.80 327.7V333.2M377.38 330.1V332.4M379.24 330.1V333.2M384.82 322.3V330.1M386.68 330.1V352.0M388.54 350.5V373.9M390.40 373.2V381.8M392.26 376.3V390.4M394.12 389.6V403.7M399.70 391.2V401.3M401.56 400.5V409.9M405.28 402.1V417.8M410.85 399.8V413.1M418.29 377.1V383.3M420.15 381.0V385.7M422.01 385.7V388.0M423.87 386.5V391.9M425.73 396.6V403.7M427.59 401.3V420.1M431.31 413.9V423.2M433.17 422.5V436.6M436.89 423.2V432.6M442.47 418.8V422.0M444.33 418.8V426.7M446.19 423.5V432.1M449.91 422.7V428.2M451.77 427.4V451.7M455.49 440.8V454.8M459.21 426.7V433.7M461.07 433.7V440.0M464.79 431.4V447.8M468.51 435.3V438.4M474.08 433.7V446.2M479.66 411.0V415.7M488.96 357.3V362.0M490.82 359.7V363.6M492.68 362.0V363.9M496.40 355.8V358.9M498.26 356.5V373.0M505.70 355.8V362.8M513.14 343.2V345.1M515.00 344.8V352.6M516.86 348.7V365.1M526.16 336.2V340.1M533.60 325.2V327.6M539.17 321.3V328.4M541.03 327.6V336.2M544.75 334.6V366.7M554.05 347.1V351.1M555.91 350.3V360.5M559.63 351.1V355.8M567.07 335.4V343.2M572.65 309.6V315.0M585.67 185.9V191.4M598.68 166.3V168.2M607.98 163.2V165.5M609.84 164.7V192.9M617.28 180.4V189.8M619.14 178.8V189.8M624.72 170.2V181.2M626.58 180.4V183.5M630.30 180.4V185.1M632.16 185.1V197.6M634.02 197.6V216.4M635.88 215.6V218.0M637.74 215.6V228.9M648.90 214.1V221.9M650.76 220.3V237.5M652.62 237.5V256.3M654.48 254.7V281.4M656.34 279.8V290.8M658.19 287.6V304.8M660.05 304.8V311.1M665.63 304.1V314.2M667.49 314.2V338.5M671.21 317.4V324.4M678.65 271.2V285.3M682.37 273.5V286.1M686.09 283.7V290.8M691.67 285.3V290.8M693.53 290.8V300.1M695.39 299.4V310.3M699.11 310.4V349.5M704.69 318.2V337.7M706.55 337.0V343.2M712.13 319.7V340.1M723.28 311.9V340.1M730.72 317.4V319.7M732.58 319.0V328.4M736.30 319.7V326.8M738.16 323.7V332.3M743.74 277.6V288.6M745.60 288.6V296.4M747.46 290.2V310.5M756.76 273.7V275.3M760.48 272.9V276.1M764.20 271.4V275.3M766.06 275.3V283.9M773.50 254.1V263.5M777.22 257.3V268.2M782.79 262.0V276.1M784.65 263.5V303.5M788.37 280.8V286.2" stroke="#f23645" stroke-width="1.8" fill="none"/>

<path d="M7.1 37.3H969.8" stroke="#111" stroke-width="1.55" fill="none"/>
<path d="M7.1 140.1H969.8" stroke="#000" stroke-width="2" fill="none"/>
<path d="M806.7 302.8 L830.3 240.2 L824 238.8 L846.3 225.2 L848.4 251.3 L843.2 247 Z" fill="#2050e6" stroke="#2050e6" stroke-width="0.6" stroke-linejoin="round"/>
<path d="M7 285.5H969" stroke="#f23645" stroke-opacity="0.7" stroke-width="0.75" stroke-dasharray="0.9 1.16" fill="none"/>

<defs><linearGradient id="eg" x1="0" y1="0" x2="0" y2="1"><stop offset="0" stop-color="#8db0d6"/><stop offset="1" stop-color="#4d78ad"/></linearGradient></defs>
<g>
<circle cx="788.4" cy="569.3" r="6.85" fill="none" stroke="#ab47bc" stroke-width="1.35" stroke-dasharray="36.8 6.24" transform="rotate(-17 788.4 569.3)"/>
<path d="M789.8 565.7 L785.5 569.5 L788.1 569.9 L786 572.9 L791.1 569.3 L788.6 568.9 Z" fill="#9c27b0" stroke="#9c27b0" stroke-width="0.5" stroke-linejoin="round"/>
<circle cx="793.1" cy="564.4" r="1.75" fill="#f23645"/>
</g>
<g>
<circle cx="864.45" cy="568.85" r="7.05" fill="#fff" stroke="#f7525f" stroke-width="1.3"/>
<clipPath id="fc"><circle cx="864.45" cy="568.85" r="5.6"/></clipPath>
<g clip-path="url(#fc)">
<rect x="858" y="562" width="14" height="15" fill="#fff"/>
<rect x="858" y="563.8" width="14" height="1.7" fill="#ef5350"/>
<rect x="858" y="568" width="14" height="1.8" fill="#ef5350"/>
<rect x="858" y="572.1" width="14" height="1.8" fill="#ef5350"/>
<rect x="858" y="562" width="8" height="8.1" fill="#4a90f0"/>
<g fill="#cfe2fb"><circle cx="861" cy="565.3" r="0.35"/><circle cx="862.7" cy="565.3" r="0.35"/><circle cx="864.4" cy="565.3" r="0.35"/><circle cx="861" cy="567" r="0.35"/><circle cx="862.7" cy="567" r="0.35"/><circle cx="864.4" cy="567" r="0.35"/><circle cx="861" cy="568.6" r="0.4"/><circle cx="862.7" cy="568.6" r="0.4"/><circle cx="864.4" cy="568.6" r="0.4"/></g>
</g>
</g>
<g fill="#111">
<path d="M8.1 612.6H17.6V623H12.9V617.3H8.1Z"/>
<circle cx="20.2" cy="614.4" r="1.75"/>
<path d="M23.9 612.6H28.9L24.6 623H19.6Z"/>
</g>
</svg>

<svg class="abs" style="left:0;top:0" width="1024" height="130" viewBox="0 0 1024 130">
<rect x="863.5" y="25.90" width="41.6" height="12.60" fill="#80828f"/>
<rect x="905.75" y="25.90" width="57.35" height="12.60" fill="#80828f"/>
<rect x="863.5" y="39.20" width="41.6" height="13.30" fill="#93d094"/>
<rect x="905.75" y="39.20" width="57.35" height="13.30" fill="#93d094"/>
<rect x="863.5" y="53.09" width="41.6" height="13.30" fill="#b2b5be"/>
<rect x="905.75" y="53.09" width="57.35" height="13.30" fill="#b2b5be"/>
<rect x="863.5" y="66.98" width="41.6" height="13.30" fill="#ff9a9a"/>
<rect x="905.75" y="66.98" width="57.35" height="13.30" fill="#ff9a9a"/>
<rect x="863.5" y="80.87" width="41.6" height="13.30" fill="#b2b5be"/>
<rect x="905.75" y="80.87" width="57.35" height="13.30" fill="#b2b5be"/>
<rect x="863.5" y="94.76" width="41.6" height="13.30" fill="#b2b5be"/>
<rect x="905.75" y="94.76" width="57.35" height="13.30" fill="#b2b5be"/>
<rect x="863.5" y="108.65" width="41.6" height="13.30" fill="#93d094"/>
<rect x="905.75" y="108.65" width="57.35" height="13.30" fill="#93d094"/>
</svg>
<div id="tbl">
<div class="row h" style="top:25px;height:12.60px;line-height:12.60px;transform:translateY(1.75px) rotate(0.05deg)"><div class="c c1">Timeframe</div><div class="c c2">Trend (20SMA)</div></div>
<div class="row" style="top:39px;height:13.30px;line-height:13.30px;transform:translateY(0.50px) rotate(0.05deg)"><div class="c c1">1 min</div><div class="c c2">UP<svg class="em" viewBox="0 0 10 10"><rect x="0" y="0" width="10" height="10" rx="2" fill="url(#eg)"/><path transform="rotate(0 5 5)" d="M5 1.5L8.4 5.1H6.4V8.5H3.6V5.1H1.6Z" fill="#fff"/></svg></div></div>
<div class="row" style="top:53px;height:13.30px;line-height:13.30px;transform:translateY(0.39px) rotate(0.05deg)"><div class="c c1">5 min</div><div class="c c2">RANGE<svg class="em" viewBox="0 0 10 10"><rect x="0" y="0" width="10" height="10" rx="2" fill="url(#eg)"/><path transform="rotate(90 5 5)" d="M5 1.5L8.4 5.1H6.4V8.5H3.6V5.1H1.6Z" fill="#fff"/></svg></div></div>
<div class="row" style="top:66px;height:13.30px;line-height:13.30px;transform:translateY(1.28px) rotate(0.05deg)"><div class="c c1">15 min</div><div class="c c2">DOWN<svg class="em" viewBox="0 0 10 10"><rect x="0" y="0" width="10" height="10" rx="2" fill="url(#eg)"/><path transform="rotate(180 5 5)" d="M5 1.5L8.4 5.1H6.4V8.5H3.6V5.1H1.6Z" fill="#fff"/></svg></div></div>
<div class="row" style="top:80px;height:13.30px;line-height:13.30px;transform:translateY(1.17px) rotate(0.05deg)"><div class="c c1">1 Hour</div><div class="c c2">RANGE<svg class="em" viewBox="0 0 10 10"><rect x="0" y="0" width="10" height="10" rx="2" fill="url(#eg)"/><path transform="rotate(90 5 5)" d="M5 1.5L8.4 5.1H6.4V8.5H3.6V5.1H1.6Z" fill="#fff"/></svg></div></div>
<div class="row" style="top:94px;height:13.30px;line-height:13.30px;transform:translateY(1.06px) rotate(0.05deg)"><div class="c c1">4 Hours</div><div class="c c2">RANGE<svg class="em" viewBox="0 0 10 10"><rect x="0" y="0" width="10" height="10" rx="2" fill="url(#eg)"/><path transform="rotate(90 5 5)" d="M5 1.5L8.4 5.1H6.4V8.5H3.6V5.1H1.6Z" fill="#fff"/></svg></div></div>
<div class="row" style="top:108px;height:13.30px;line-height:13.30px;transform:translateY(0.95px) rotate(0.05deg)"><div class="c c1">Daily</div><div class="c c2">UP<svg class="em" viewBox="0 0 10 10"><rect x="0" y="0" width="10" height="10" rx="2" fill="url(#eg)"/><path transform="rotate(0 5 5)" d="M5 1.5L8.4 5.1H6.4V8.5H3.6V5.1H1.6Z" fill="#fff"/></svg></div></div>
</div>
<div id="jpy" class="abs"><span>JPY</span></div><div id="jpyline"></div>
<div class="abs pl" style="top:68px;transform:translateY(0.06px) scaleX(0.955) rotate(0.05deg)">158.500</div>
<div class="abs pl" style="top:116px;transform:translateY(0.33px) scaleX(0.955) rotate(0.05deg)">158.000</div>
<div class="abs pl" style="top:164px;transform:translateY(0.60px) scaleX(0.955) rotate(0.05deg)">157.500</div>
<div class="abs pl" style="top:212px;transform:translateY(0.87px) scaleX(0.955) rotate(0.05deg)">157.000</div>
<div class="abs pl" style="top:261px;transform:translateY(0.14px) scaleX(0.955) rotate(0.05deg)">156.500</div>
<div class="abs pl" style="top:309px;transform:translateY(0.41px) scaleX(0.955) rotate(0.05deg)">156.000</div>
<div class="abs pl" style="top:357px;transform:translateY(0.68px) scaleX(0.955) rotate(0.05deg)">155.500</div>
<div class="abs pl" style="top:405px;transform:translateY(0.95px) scaleX(0.955) rotate(0.05deg)">155.000</div>
<div class="abs pl" style="top:454px;transform:translateY(0.22px) scaleX(0.955) rotate(0.05deg)">154.500</div>
<div class="abs pl" style="top:502px;transform:translateY(0.49px) scaleX(0.955) rotate(0.05deg)">154.000</div>
<div class="abs pl" style="top:550px;transform:translateY(0.76px) scaleX(0.955) rotate(0.05deg)">153.500</div>
<div id="cur" class="abs"><div style="top:1.7px">156.297</div><div style="top:11.6px">58:06</div></div>
<div class="abs tl" style="left:11px;transform:translate(calc(-50% + 0.10px),0.6px) scaleX(0.94) rotate(0.05deg)">3</div>
<div class="abs tl" style="left:55px;transform:translate(calc(-50% + 0.72px),0.6px) scaleX(0.94) rotate(0.05deg)">4</div>
<div class="abs tl" style="left:100px;transform:translate(calc(-50% + 0.34px),0.6px) scaleX(0.94) rotate(0.05deg)">5</div>
<div class="abs tl" style="left:144px;transform:translate(calc(-50% + 0.96px),0.6px) scaleX(0.94) rotate(0.05deg)">6</div>
<div class="abs tl" style="left:189px;transform:translate(calc(-50% + 0.58px),0.6px) scaleX(0.94) rotate(0.05deg)">9</div>
<div class="abs tl" style="left:234px;transform:translate(calc(-50% + 0.20px),0.6px) scaleX(0.94) rotate(0.05deg)">10</div>
<div class="abs tl" style="left:278px;transform:translate(calc(-50% + 0.82px),0.6px) scaleX(0.94) rotate(0.05deg)">11</div>
<div class="abs tl" style="left:323px;transform:translate(calc(-50% + 0.44px),0.6px) scaleX(0.94) rotate(0.05deg)">12</div>
<div class="abs tl" style="left:368px;transform:translate(calc(-50% + 0.06px),0.6px) scaleX(0.94) rotate(0.05deg)">13</div>
<div class="abs tl" style="left:412px;transform:translate(calc(-50% + 0.68px),0.6px) scaleX(0.94) rotate(0.05deg)">16</div>
<div class="abs tl" style="left:457px;transform:translate(calc(-50% + 0.30px),0.6px) scaleX(0.94) rotate(0.05deg)">17</div>
<div class="abs tl" style="left:501px;transform:translate(calc(-50% + 0.92px),0.6px) scaleX(0.94) rotate(0.05deg)">18</div>
<div class="abs tl" style="left:546px;transform:translate(calc(-50% + 0.54px),0.6px) scaleX(0.94) rotate(0.05deg)">19</div>
<div class="abs tl" style="left:591px;transform:translate(calc(-50% + 0.16px),0.6px) scaleX(0.94) rotate(0.05deg)">20</div>
<div class="abs tl" style="left:635px;transform:translate(calc(-50% + 0.78px),0.6px) scaleX(0.94) rotate(0.05deg)">23</div>
<div class="abs tl" style="left:680px;transform:translate(calc(-50% + 0.40px),0.6px) scaleX(0.94) rotate(0.05deg)">24</div>
<div class="abs tl" style="left:725px;transform:translate(calc(-50% + 0.02px),0.6px) scaleX(0.94) rotate(0.05deg)">25</div>
<div class="abs tl" style="left:769px;transform:translate(calc(-50% + 0.64px),0.6px) scaleX(0.94) rotate(0.05deg)">27</div>
<div class="abs tl" style="left:814px;transform:translate(calc(-50% + 0.26px),0.6px) scaleX(0.94) rotate(0.05deg)">30</div>
<div class="abs tl" style="left:858px;transform:translate(calc(-50% + 0.88px),0.6px) scaleX(0.94) rotate(0.05deg)">31</div>
<div class="abs tl b" style="left:903px;transform:translate(calc(-50% + 0.50px),0.6px) scaleX(0.94) rotate(0.05deg)">2026</div>
<div class="abs tl" style="left:948px;transform:translate(calc(-50% + 0.12px),0.6px) scaleX(0.94) rotate(0.05deg)">2</div>
<div id="logo" class="abs">TradingView</div>
</body></html>
